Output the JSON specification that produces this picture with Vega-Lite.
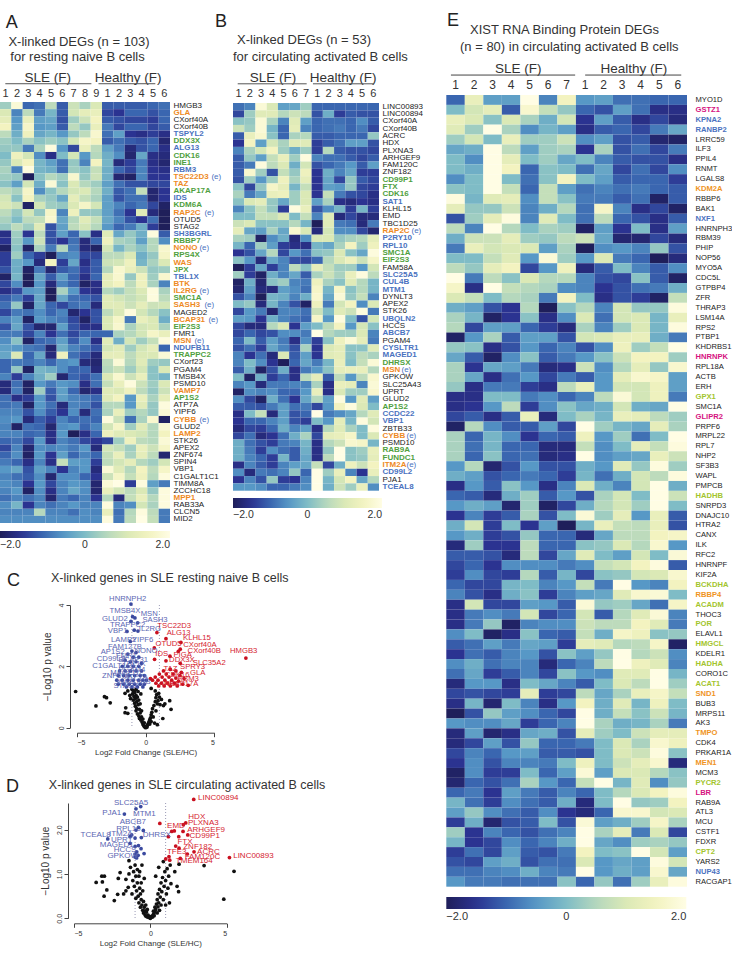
{"$schema":"https://vega.github.io/schema/vega-lite/v6.json","padding":0,"background":"white","spacing":23.3,"resolve":{"scale":{"color":"independent"}},"config":{"font":"Liberation Sans","view":{"stroke":null},"axis":{"grid":false},"text":{"font":"Liberation Sans"}},
"hconcat":[{"spacing":20,"resolve":{"scale":{"color":"independent"}},"vconcat":[
{"spacing":-7,"resolve":{"scale":{"color":"independent"}},"hconcat":[
{"bounds":"flush","spacing":0,"resolve":{"scale":{"color":"independent"}},"vconcat":[
{"width":170,"height":102,"data":{"values":[{"a":0}]},"layer":[
{"mark":{"type":"text","text":"A","fontSize":18,"align":"left","color":"#222"},"encoding":{"x":{"datum":0.53,"type":"quantitative","scale":{"domain":[0,15]},"axis":null},"y":{"datum":85,"type":"quantitative","scale":{"domain":[0,102]},"axis":null}}},
{"mark":{"type":"text","text":"X-linked DEGs (n = 103)","fontSize":13,"align":"left","color":"#333"},"encoding":{"x":{"datum":0.79,"type":"quantitative","axis":null},"y":{"datum":65,"type":"quantitative","axis":null}}},
{"mark":{"type":"text","text":"for resting naive B cells","fontSize":13,"align":"left","color":"#333"},"encoding":{"x":{"datum":0.97,"type":"quantitative","axis":null},"y":{"datum":48,"type":"quantitative","axis":null}}},
{"mark":{"type":"text","text":"SLE (F)","fontSize":13.5,"color":"#333"},"encoding":{"x":{"datum":4.5,"type":"quantitative","axis":null},"y":{"datum":26,"type":"quantitative","axis":null}}},
{"mark":{"type":"text","text":"Healthy (F)","fontSize":13.5,"color":"#333"},"encoding":{"x":{"datum":12.05,"type":"quantitative","axis":null},"y":{"datum":26,"type":"quantitative","axis":null}}},
{"mark":{"type":"rule","color":"#555","strokeWidth":1},"encoding":{"x":{"datum":0.5,"type":"quantitative","axis":null},"x2":{"datum":8.6},"y":{"datum":19.7,"type":"quantitative","axis":null}}},
{"mark":{"type":"rule","color":"#555","strokeWidth":1},"encoding":{"x":{"datum":9.27,"type":"quantitative","axis":null},"x2":{"datum":14.62},"y":{"datum":19.7,"type":"quantitative","axis":null}}}
]},
{"width":170,"height":421,"data":{"values":[
{"g":"HMGB3","S1":0.3,"S2":1.8,"S3":-1,"S4":-0.9,"S5":0.6,"S6":-1.1,"S7":0.8,"S8":0.4,"S9":1,"H1":-1.1,"H2":-1.1,"H3":-1.1,"H4":-1.1,"H5":-1,"H6":-0.9},
{"g":"GLA","S1":1,"S2":-0.7,"S3":0.6,"S4":-0.8,"S5":-0.1,"S6":-1.1,"S7":0.9,"S8":1.2,"S9":1.3,"H1":-1.3,"H2":-1.5,"H3":-1,"H4":-1,"H5":-1.2,"H6":-1},
{"g":"CXorf40A","S1":1.2,"S2":-0.5,"S3":1.3,"S4":-0.4,"S5":-0.3,"S6":-1.2,"S7":0.3,"S8":0.8,"S9":1.5,"H1":-1.1,"H2":-1.2,"H3":-1.3,"H4":-1.3,"H5":-1.4,"H6":-1},
{"g":"CXorf40B","S1":1.5,"S2":-0.4,"S3":1.6,"S4":-0.5,"S5":-0.4,"S6":-1.1,"S7":0.6,"S8":0.2,"S9":1.3,"H1":-0.8,"H2":-1.3,"H3":-1,"H4":-1,"H5":-1.3,"H6":-1.1},
{"g":"TSPYL2","S1":0.6,"S2":-0.2,"S3":1.4,"S4":-0.3,"S5":-0.1,"S6":-0.5,"S7":0.2,"S8":0.6,"S9":1.7,"H1":-0.9,"H2":-0.4,"H3":-1.5,"H4":-1.6,"H5":-1.4,"H6":-1.6},
{"g":"DDX3X","S1":0.3,"S2":0,"S3":0.4,"S4":0.1,"S5":0.3,"S6":0.1,"S7":0.9,"S8":1.6,"S9":1.5,"H1":-1.1,"H2":-0.9,"H3":-1.1,"H4":-1.2,"H5":-1,"H6":-1.8},
{"g":"ALG13","S1":0.2,"S2":0.2,"S3":-0.8,"S4":0.4,"S5":1.9,"S6":-0.5,"S7":-1.3,"S8":1.3,"S9":0.6,"H1":-0.4,"H2":-0.8,"H3":-1.7,"H4":-1.2,"H5":-1,"H6":-1.6},
{"g":"CDK16","S1":0,"S2":1.4,"S3":0.9,"S4":-0.6,"S5":-1.6,"S6":0,"S7":0.9,"S8":-0.5,"S9":0.5,"H1":-0.2,"H2":-0.6,"H3":-1.8,"H4":-0.3,"H5":-1.6,"H6":-1.7},
{"g":"INE1","S1":0.2,"S2":1,"S3":1.5,"S4":-0.1,"S5":-0.4,"S6":-0.9,"S7":0.2,"S8":-0.7,"S9":1.5,"H1":-0.1,"H2":-1.7,"H3":-1.4,"H4":-0.8,"H5":-1.6,"H6":-1.8},
{"g":"RBM3","S1":0.4,"S2":-0.7,"S3":1.9,"S4":-0.1,"S5":-0.2,"S6":-0.9,"S7":0.3,"S8":0.1,"S9":0.7,"H1":-0.2,"H2":-1,"H3":-1.3,"H4":-0.7,"H5":-1.5,"H6":-1.6},
{"g":"TSC22D3","S1":0.3,"S2":0.2,"S3":-2,"S4":0.1,"S5":0.5,"S6":0.3,"S7":1.7,"S8":0.2,"S9":0.8,"H1":-0.2,"H2":-1.8,"H3":-1.9,"H4":-0.7,"H5":-1.5,"H6":-1.5},
{"g":"TAZ","S1":0.1,"S2":-0.4,"S3":0.9,"S4":-0.2,"S5":1.8,"S6":0.1,"S7":1,"S8":0.5,"S9":0.3,"H1":-0.4,"H2":-0.9,"H3":-1.2,"H4":-1.2,"H5":-1.3,"H6":-1.3},
{"g":"AKAP17A","S1":0.6,"S2":0.4,"S3":1.6,"S4":-0.6,"S5":0.1,"S6":0.5,"S7":0.9,"S8":1,"S9":0.5,"H1":-0.2,"H2":-1.1,"H3":-0.9,"H4":0.7,"H5":-1.8,"H6":-1.5},
{"g":"IDS","S1":0.9,"S2":0.1,"S3":1.5,"S4":0.4,"S5":0.2,"S6":-0.3,"S7":1.2,"S8":0.7,"S9":0.4,"H1":-0.4,"H2":-1.2,"H3":-0.9,"H4":-0.9,"H5":-1.8,"H6":-1.5},
{"g":"KDM6A","S1":1,"S2":0.8,"S3":-1.9,"S4":0.9,"S5":0.3,"S6":0.2,"S7":1,"S8":1.6,"S9":0.9,"H1":-0.4,"H2":-0.7,"H3":-1,"H4":-0.8,"H5":-1.3,"H6":-1.9},
{"g":"RAP2C","S1":0.6,"S2":0.2,"S3":0.9,"S4":0.2,"S5":1.6,"S6":-0.7,"S7":1.4,"S8":0.2,"S9":0.2,"H1":-0.4,"H2":-0.9,"H3":-1.5,"H4":1.1,"H5":-1.7,"H6":-2},
{"g":"OTUD5","S1":0.4,"S2":0,"S3":0.6,"S4":0.7,"S5":1.7,"S6":-0.3,"S7":0.5,"S8":1.1,"S9":0.7,"H1":-0.3,"H2":-0.7,"H3":-1.2,"H4":-1.5,"H5":-0.9,"H6":-2},
{"g":"STAG2","S1":0.2,"S2":0.6,"S3":0.3,"S4":1.1,"S5":-1.2,"S6":-0.4,"S7":0.6,"S8":0.9,"S9":0.5,"H1":-0.5,"H2":-1,"H3":-0.8,"H4":-0.2,"H5":-1.4,"H6":-2},
{"g":"SH3BGRL","S1":-1.6,"S2":0.3,"S3":-1.5,"S4":0.6,"S5":-1.2,"S6":-0.4,"S7":-1,"S8":0.1,"S9":-1.6,"H1":1.1,"H2":-0.3,"H3":0.2,"H4":-0.2,"H5":1.9,"H6":-1.1},
{"g":"RBBP7","S1":-1.5,"S2":0.2,"S3":-0.5,"S4":0.8,"S5":-1.2,"S6":-1.5,"S7":-0.9,"S8":-1.7,"S9":-1,"H1":1.4,"H2":0.4,"H3":0.3,"H4":-0.4,"H5":0.5,"H6":-0.6},
{"g":"NONO","S1":-1.9,"S2":0.1,"S3":-1.9,"S4":0.4,"S5":-0.8,"S6":0.5,"S7":-0.8,"S8":-1.7,"S9":-1.9,"H1":0.9,"H2":-0.1,"H3":0.4,"H4":0.1,"H5":0.5,"H6":1.7},
{"g":"RPS4X","S1":-1.4,"S2":0.3,"S3":-1,"S4":-1.4,"S5":-2,"S6":-0.7,"S7":-0.6,"S8":-1.3,"S9":-1.3,"H1":0.6,"H2":0.6,"H3":1,"H4":-0.2,"H5":0.2,"H6":1.6},
{"g":"WAS","S1":-1.4,"S2":-0.2,"S3":-0.5,"S4":-1.7,"S5":1.5,"S6":-1.4,"S7":-0.3,"S8":-1.6,"S9":-1.1,"H1":0.8,"H2":0.9,"H3":1.4,"H4":-0.1,"H5":0.4,"H6":1},
{"g":"JPX","S1":-1.2,"S2":-0.2,"S3":-1.9,"S4":-0.8,"S5":-1.8,"S6":-1.1,"S7":-0.9,"S8":-1.4,"S9":-1.1,"H1":0.5,"H2":1.7,"H3":1.3,"H4":0.8,"H5":0.2,"H6":0.3},
{"g":"TBL1X","S1":-1.9,"S2":-0.1,"S3":-2,"S4":-0.3,"S5":-1.1,"S6":-0.4,"S7":-1,"S8":-1.6,"S9":-1,"H1":1.2,"H2":1.7,"H3":0.2,"H4":1.4,"H5":0.3,"H6":1.7},
{"g":"BTK","S1":-1.3,"S2":-0.6,"S3":-2,"S4":-0.5,"S5":-1.7,"S6":-0.7,"S7":-1,"S8":-1.9,"S9":-1.6,"H1":1.2,"H2":1.5,"H3":0.6,"H4":1.4,"H5":0.4,"H6":-0.7},
{"g":"IL2RG","S1":-1.6,"S2":-1.3,"S3":-0.5,"S4":-0.4,"S5":-2,"S6":0.4,"S7":-0.5,"S8":-1.5,"S9":-1.6,"H1":0.5,"H2":0.3,"H3":0.7,"H4":1,"H5":1.9,"H6":0.4},
{"g":"SMC1A","S1":-1.1,"S2":-0.8,"S3":-1.4,"S4":-0.3,"S5":-2,"S6":-0.3,"S7":-0.9,"S8":-1,"S9":-1.2,"H1":1.1,"H2":0.9,"H3":0.7,"H4":0.9,"H5":1.9,"H6":0.6},
{"g":"SASH3","S1":-0.9,"S2":0.2,"S3":-1.9,"S4":-0.3,"S5":-1,"S6":-1.3,"S7":-0.9,"S8":-0.8,"S9":-1.7,"H1":1.1,"H2":1.1,"H3":0.8,"H4":1.2,"H5":0.8,"H6":0.9},
{"g":"MAGED2","S1":-1.3,"S2":-0.8,"S3":-0.9,"S4":-0.6,"S5":-1,"S6":-0.7,"S7":-1.8,"S8":-1.5,"S9":-1.2,"H1":0.6,"H2":1,"H3":1.9,"H4":0.9,"H5":0.5,"H6":0.1},
{"g":"BCAP31","S1":-0.7,"S2":-0.4,"S3":-1.9,"S4":-0.5,"S5":-0.7,"S6":-0.8,"S7":-1.3,"S8":-1.9,"S9":-1.2,"H1":1,"H2":1.6,"H3":-0.8,"H4":1.3,"H5":1,"H6":-0.2},
{"g":"EIF2S3","S1":-1.2,"S2":-0.3,"S3":-1.2,"S4":-1.8,"S5":-1.8,"S6":-0.4,"S7":-1.2,"S8":-1.6,"S9":-1.6,"H1":1,"H2":1.7,"H3":0.4,"H4":0.9,"H5":1,"H6":0.4},
{"g":"FMR1","S1":-0.8,"S2":-0.8,"S3":-1.3,"S4":-0.7,"S5":-1.5,"S6":-0.9,"S7":-1.3,"S8":-1,"S9":-1,"H1":-1,"H2":0.4,"H3":0.5,"H4":0.9,"H5":1.6,"H6":1.3},
{"g":"MSN","S1":-0.6,"S2":0.1,"S3":-1.9,"S4":-1,"S5":-0.9,"S6":-0.4,"S7":-1.1,"S8":-0.6,"S9":-1.6,"H1":1.1,"H2":-0.2,"H3":0.9,"H4":0.3,"H5":0.7,"H6":1.9},
{"g":"NDUFB11","S1":-0.4,"S2":-0.5,"S3":-0.8,"S4":-0.9,"S5":-1.8,"S6":-0.2,"S7":-0.7,"S8":-0.9,"S9":-1.2,"H1":0.9,"H2":1.1,"H3":0.3,"H4":0.9,"H5":1.2,"H6":-1},
{"g":"TRAPPC2","S1":-0.3,"S2":1,"S3":-1,"S4":-0.3,"S5":-1.7,"S6":1.4,"S7":-0.9,"S8":-1.2,"S9":-1.7,"H1":1.2,"H2":1.2,"H3":0.6,"H4":1,"H5":1,"H6":1.8},
{"g":"CXorf23","S1":-1,"S2":-0.8,"S3":-0.9,"S4":-0.7,"S5":-1,"S6":-0.6,"S7":-0.5,"S8":-1.7,"S9":-1.8,"H1":0.6,"H2":1.8,"H3":0.5,"H4":1.1,"H5":0.3,"H6":0.2},
{"g":"PGAM4","S1":-1,"S2":0.2,"S3":-1.9,"S4":-0.1,"S5":-0.2,"S6":-0.6,"S7":-1,"S8":-1,"S9":-1.7,"H1":0.5,"H2":0.8,"H3":0.3,"H4":0.9,"H5":0.1,"H6":1},
{"g":"TMSB4X","S1":-0.7,"S2":-1.4,"S3":-0.7,"S4":-0.2,"S5":0.3,"S6":-1.8,"S7":-1,"S8":-1.2,"S9":-0.9,"H1":1,"H2":1.7,"H3":0.8,"H4":1.3,"H5":0.1,"H6":-0.1},
{"g":"PSMD10","S1":-1.7,"S2":-0.9,"S3":-1.9,"S4":-0.5,"S5":-0.8,"S6":-0.5,"S7":-0.6,"S8":-1.6,"S9":-0.9,"H1":0.7,"H2":1.3,"H3":1.9,"H4":0.8,"H5":0.3,"H6":1},
{"g":"VAMP7","S1":-1.7,"S2":-0.8,"S3":-1.9,"S4":0.3,"S5":-1.1,"S6":-0.4,"S7":-1,"S8":-1.8,"S9":-1.6,"H1":1.1,"H2":1,"H3":1.4,"H4":0.6,"H5":0.2,"H6":0.8},
{"g":"AP1S2","S1":-0.9,"S2":-1.6,"S3":-1.4,"S4":-0.5,"S5":-1.2,"S6":-0.4,"S7":-0.7,"S8":-0.8,"S9":-1,"H1":1.1,"H2":1.5,"H3":-0.5,"H4":1.3,"H5":0.4,"H6":1.2},
{"g":"ATP7A","S1":-0.9,"S2":-0.8,"S3":-1.9,"S4":-0.5,"S5":-0.9,"S6":-1.7,"S7":-0.7,"S8":-0.8,"S9":-1.2,"H1":0.5,"H2":0.5,"H3":-0.5,"H4":1.1,"H5":0.2,"H6":1.9},
{"g":"YIPF6","S1":-0.7,"S2":-0.7,"S3":-1.2,"S4":-0.6,"S5":-1.1,"S6":-1.5,"S7":-0.6,"S8":-1.7,"S9":-0.9,"H1":0.4,"H2":1.3,"H3":0.3,"H4":0.5,"H5":0.2,"H6":1.8},
{"g":"CYBB","S1":-0.6,"S2":-0.5,"S3":-1.7,"S4":-1.1,"S5":-1.4,"S6":-0.7,"S7":-1,"S8":-0.9,"S9":-1,"H1":1.9,"H2":0.8,"H3":-0.9,"H4":0.4,"H5":1.7,"H6":-1.9},
{"g":"GLUD2","S1":-0.7,"S2":-1.9,"S3":-0.9,"S4":-1,"S5":-1.8,"S6":-0.6,"S7":-0.5,"S8":-1,"S9":-0.7,"H1":0.9,"H2":1.6,"H3":0.3,"H4":1.1,"H5":0.5,"H6":1.8},
{"g":"LAMP2","S1":-0.7,"S2":-0.7,"S3":-1,"S4":-0.9,"S5":-1.6,"S6":-0.5,"S7":-2,"S8":-1.6,"S9":-1,"H1":1.4,"H2":1.1,"H3":1,"H4":0.9,"H5":0.5,"H6":1.5},
{"g":"STK26","S1":-1,"S2":-0.9,"S3":-1.3,"S4":-0.5,"S5":-1.6,"S6":-0.7,"S7":-0.9,"S8":-1.3,"S9":-1.5,"H1":-1.3,"H2":0.3,"H3":1.4,"H4":0.6,"H5":0.5,"H6":1.8},
{"g":"APEX2","S1":-1.3,"S2":-0.7,"S3":-1.8,"S4":-0.6,"S5":-0.7,"S6":-0.6,"S7":-0.8,"S8":-0.5,"S9":-1.7,"H1":0.9,"H2":0.7,"H3":0.3,"H4":1.3,"H5":0.8,"H6":1.6},
{"g":"ZNF674","S1":-1,"S2":-0.6,"S3":-1.9,"S4":-0.5,"S5":-1.5,"S6":-0.4,"S7":-1,"S8":-0.7,"S9":-1,"H1":0.7,"H2":1.3,"H3":0.4,"H4":1.2,"H5":0.6,"H6":-1.8},
{"g":"SPIN4","S1":-0.8,"S2":-1,"S3":-1.6,"S4":-0.7,"S5":-1.6,"S6":0.7,"S7":-0.4,"S8":-0.5,"S9":-1.4,"H1":0.6,"H2":0.9,"H3":1.2,"H4":0.5,"H5":0.3,"H6":0.9},
{"g":"VBP1","S1":-0.5,"S2":-0.3,"S3":-1.2,"S4":-0.4,"S5":-0.7,"S6":-1.5,"S7":-0.7,"S8":-0.5,"S9":-1.7,"H1":1.8,"H2":1.1,"H3":0.5,"H4":1.5,"H5":0.6,"H6":1.6},
{"g":"C1GALT1C1","S1":-0.7,"S2":-0.9,"S3":-1.1,"S4":-0.6,"S5":-1.8,"S6":-0.6,"S7":-0.6,"S8":-1,"S9":-1.5,"H1":0.8,"H2":1.6,"H3":0.7,"H4":1.4,"H5":0.5,"H6":1.9},
{"g":"TIMM8A","S1":-0.6,"S2":-0.7,"S3":-1.5,"S4":-0.5,"S5":-1.3,"S6":-0.7,"S7":-0.5,"S8":-0.6,"S9":-1.8,"H1":1.8,"H2":2,"H3":-1.4,"H4":1.9,"H5":-0.4,"H6":-0.8},
{"g":"ZCCHC18","S1":-0.7,"S2":-0.5,"S3":-1.9,"S4":-0.6,"S5":-1.6,"S6":-0.7,"S7":-0.3,"S8":-0.6,"S9":-1.8,"H1":1.3,"H2":0.9,"H3":0.6,"H4":1,"H5":0.2,"H6":1.9},
{"g":"MPP1","S1":-0.9,"S2":-0.7,"S3":-0.9,"S4":-0.7,"S5":-1.8,"S6":-0.8,"S7":-1,"S8":-0.7,"S9":-1.5,"H1":0.5,"H2":-1.7,"H3":0.7,"H4":1.3,"H5":0.5,"H6":1.9},
{"g":"RAB33A","S1":-0.6,"S2":-0.1,"S3":-1.5,"S4":-0.7,"S5":-0.9,"S6":-0.7,"S7":-0.5,"S8":-0.7,"S9":-0.7,"H1":1.9,"H2":-0.7,"H3":-0.6,"H4":0.9,"H5":0.4,"H6":1.9},
{"g":"CLCN5","S1":-0.7,"S2":-0.7,"S3":-0.7,"S4":0.5,"S5":-0.7,"S6":-0.7,"S7":-0.9,"S8":-0.6,"S9":-0.7,"H1":1.3,"H2":-0.9,"H3":0.5,"H4":1.9,"H5":0.6,"H6":-0.8},
{"g":"MID2","S1":-0.6,"S2":-0.6,"S3":-0.6,"S4":-0.6,"S5":-0.6,"S6":-0.6,"S7":-0.6,"S8":-0.6,"S9":-0.6,"H1":1.9,"H2":-0.8,"H3":0.6,"H4":2,"H5":0.7,"H6":-0.8}
]},"transform":[{"fold":["S1","S2","S3","S4","S5","S6","S7","S8","S9","H1","H2","H3","H4","H5","H6"],"as":["key","v"]}],
"layer":[
{"mark":{"type":"rect"},"encoding":{"x":{"field":"key","type":"nominal","sort":null,"scale":{"paddingInner":0,"paddingOuter":0},"axis":{"orient":"top","title":null,"labelAngle":0,"ticks":false,"domain":false,"labelPadding":4,"labelFontSize":11,"labelColor":"#333","labelExpr":"substring(datum.label,1)"}},
"y":{"field":"g","type":"nominal","sort":null,"scale":{"paddingInner":0,"paddingOuter":0},"axis":{"orient":"right","title":null,"ticks":false,"domain":false,"labelPadding":3,"labelFontSize":8,"labelLimit":100,"labelFontWeight":{"condition":{"test":"indexof(['HMGB3','CXorf40A','CXorf40B','OTUD5','STAG2','MAGED2','FMR1','CXorf23','PGAM4','TMSB4X','PSMD10','ATP7A','YIPF6','GLUD2','STK26','APEX2','ZNF674','SPIN4','VBP1','C1GALT1C1','TIMM8A','ZCCHC18','RAB33A','CLCN5','MID2'],datum.value)>=0","value":"normal"},"value":"bold"},"labelColor":{"condition":[{"test":"indexof(['GLA','TSC22D3','TAZ','RAP2C','NONO','WAS','BTK','IL2RG','SASH3','BCAP31','MSN','VAMP7','CYBB','LAMP2','MPP1'],datum.value)>=0","value":"#ee8a1f"},{"test":"indexof(['TSPYL2','ALG13','RBM3','IDS','SH3BGRL','TBL1X','NDUFB11'],datum.value)>=0","value":"#4a72c0"},{"test":"indexof(['DDX3X','CDK16','INE1','AKAP17A','KDM6A','RBBP7','RPS4X','JPX','SMC1A','EIF2S3','TRAPPC2','AP1S2'],datum.value)>=0","value":"#4f9f3e"}],"value":"#222"}}},
"color":{"field":"v","type":"quantitative","scale":{"domain":[-2,-1.5,-1,-0.5,0,0.5,1,1.5,2],"range":["#1f1f5a","#2b3391","#3a66b0","#5798c6","#7fbcc6","#b5d8bd","#dbe9b6","#f3f3c0","#fffde4"],"interpolate":"rgb"},"legend":{"orient":"bottom","direction":"horizontal","title":null,"gradientLength":170,"gradientThickness":7,"offset":8,"values":[-2,0,2],"labelFontSize":10.5,"labelColor":"#333","labelOverlap":false,"labelExpr":"datum.value==0?'0':format(datum.value,'.1f')"}}}},
{"transform":[{"filter":"datum.key=='H6' && indexof(['MSN'],datum.g)>=0"}],"mark":{"type":"text","text":"(e)","fontSize":8,"color":"#4a72c0","dx":35},"encoding":{"x":{"field":"key","type":"nominal","sort":null},"y":{"field":"g","type":"nominal","sort":null}}},
{"transform":[{"filter":"datum.key=='H6' && indexof(['IL2RG','NONO','CYBB'],datum.g)>=0"}],"mark":{"type":"text","text":"(e)","fontSize":8,"color":"#4a72c0","dx":40},"encoding":{"x":{"field":"key","type":"nominal","sort":null},"y":{"field":"g","type":"nominal","sort":null}}},
{"transform":[{"filter":"datum.key=='H6' && indexof(['RAP2C','SASH3'],datum.g)>=0"}],"mark":{"type":"text","text":"(e)","fontSize":8,"color":"#4a72c0","dx":45},"encoding":{"x":{"field":"key","type":"nominal","sort":null},"y":{"field":"g","type":"nominal","sort":null}}},
{"transform":[{"filter":"datum.key=='H6' && indexof(['BCAP31'],datum.g)>=0"}],"mark":{"type":"text","text":"(e)","fontSize":8,"color":"#4a72c0","dx":49},"encoding":{"x":{"field":"key","type":"nominal","sort":null},"y":{"field":"g","type":"nominal","sort":null}}},
{"transform":[{"filter":"datum.key=='H6' && indexof(['TSC22D3'],datum.g)>=0"}],"mark":{"type":"text","text":"(e)","fontSize":8,"color":"#4a72c0","dx":52},"encoding":{"x":{"field":"key","type":"nominal","sort":null},"y":{"field":"g","type":"nominal","sort":null}}}
]}
]},
{"bounds":"flush","spacing":0,"resolve":{"scale":{"color":"independent"}},"vconcat":[
{"width":146,"height":103,"data":{"values":[{"a":0}]},"layer":[
{"mark":{"type":"text","text":"B","fontSize":18,"align":"left","color":"#222"},"encoding":{"x":{"datum":-1.6,"type":"quantitative","scale":{"domain":[0,13]},"axis":null},"y":{"datum":86,"type":"quantitative","scale":{"domain":[0,103]},"axis":null}}},
{"mark":{"type":"text","text":"X-linked DEGs (n = 53)","fontSize":13,"align":"left","color":"#333"},"encoding":{"x":{"datum":0.36,"type":"quantitative","axis":null},"y":{"datum":67,"type":"quantitative","axis":null}}},
{"mark":{"type":"text","text":"for circulating activated B cells","fontSize":13,"align":"left","color":"#333"},"encoding":{"x":{"datum":0,"type":"quantitative","axis":null},"y":{"datum":49,"type":"quantitative","axis":null}}},
{"mark":{"type":"text","text":"SLE (F)","fontSize":13.5,"color":"#333"},"encoding":{"x":{"datum":3.56,"type":"quantitative","axis":null},"y":{"datum":27,"type":"quantitative","axis":null}}},
{"mark":{"type":"text","text":"Healthy (F)","fontSize":13.5,"color":"#333"},"encoding":{"x":{"datum":9.8,"type":"quantitative","axis":null},"y":{"datum":27,"type":"quantitative","axis":null}}},
{"mark":{"type":"rule","color":"#555","strokeWidth":1},"encoding":{"x":{"datum":0.42,"type":"quantitative","axis":null},"x2":{"datum":6.56},"y":{"datum":20.5,"type":"quantitative","axis":null}}},
{"mark":{"type":"rule","color":"#555","strokeWidth":1},"encoding":{"x":{"datum":7.12,"type":"quantitative","axis":null},"x2":{"datum":12.56},"y":{"datum":20.5,"type":"quantitative","axis":null}}}
]},
{"width":146,"height":387.7,"data":{"values":[
{"g":"LINC00893","S1":-0.9,"S2":-0.7,"S3":1.8,"S4":1,"S5":-0.4,"S6":-0.3,"S7":0.3,"H1":-1,"H2":-1,"H3":-1,"H4":-1,"H5":-1,"H6":-1},
{"g":"LINC00894","S1":-1.3,"S2":0.3,"S3":1.1,"S4":1.1,"S5":0.5,"S6":0.8,"S7":0.6,"H1":-1.2,"H2":-0.2,"H3":-1.4,"H4":-1.1,"H5":-1.2,"H6":-1.2},
{"g":"CXorf40A","S1":0.1,"S2":0.2,"S3":1.8,"S4":0.4,"S5":-0.7,"S6":1.1,"S7":-0.4,"H1":-1,"H2":-0.9,"H3":-0.9,"H4":-1,"H5":-0.6,"H6":-1.1},
{"g":"CXorf40B","S1":0.8,"S2":0.3,"S3":1.8,"S4":-0.1,"S5":-1,"S6":1.2,"S7":-0.7,"H1":-1,"H2":-0.9,"H3":-0.8,"H4":-1,"H5":-0.8,"H6":-1.3},
{"g":"ACRC","S1":-1.1,"S2":1.3,"S3":1.7,"S4":0.1,"S5":-1,"S6":0.4,"S7":0.5,"H1":-1.1,"H2":-1.1,"H3":-1,"H4":-1,"H5":-1,"H6":0.2},
{"g":"HDX","S1":-1.5,"S2":1.5,"S3":-0.4,"S4":0.9,"S5":0.4,"S6":1.1,"S7":1.1,"H1":-1.4,"H2":-1.1,"H3":-0.9,"H4":-0.4,"H5":-0.4,"H6":-1.2},
{"g":"PLXNA3","S1":-0.7,"S2":0.4,"S3":0.9,"S4":1.5,"S5":0.3,"S6":-0.2,"S7":0.3,"H1":-1.4,"H2":0.5,"H3":-1.1,"H4":-1.2,"H5":-1.2,"H6":-1.3},
{"g":"ARHGEF9","S1":-1.1,"S2":0.2,"S3":-0.4,"S4":0.7,"S5":1.3,"S6":0.3,"S7":1.9,"H1":-0.7,"H2":-0.9,"H3":-0.9,"H4":-1.1,"H5":-1.3,"H6":-1.1},
{"g":"FAM120C","S1":-1.1,"S2":-0.8,"S3":1.9,"S4":0.6,"S5":1,"S6":-0.2,"S7":0.9,"H1":-1.2,"H2":-1,"H3":-0.8,"H4":-0.5,"H5":-1.1,"H6":-0.4},
{"g":"ZNF182","S1":-1.1,"S2":1.7,"S3":0.3,"S4":-1.2,"S5":0.7,"S6":0.2,"S7":1.4,"H1":-1.5,"H2":-0.2,"H3":-0.7,"H4":-0.3,"H5":-1.4,"H6":-1.4},
{"g":"CD99P1","S1":-1.2,"S2":0.3,"S3":-0.5,"S4":0.3,"S5":1.4,"S6":0.4,"S7":1.2,"H1":-1.5,"H2":-0.3,"H3":-1.3,"H4":0.2,"H5":-1.1,"H6":-1.3},
{"g":"FTX","S1":0.1,"S2":-1.3,"S3":0.2,"S4":1.6,"S5":1.2,"S6":-0.1,"S7":0.7,"H1":-1.5,"H2":-0.4,"H3":-0.5,"H4":0.2,"H5":-1.3,"H6":-1.4},
{"g":"CDK16","S1":0.4,"S2":-0.8,"S3":-0.3,"S4":1.3,"S5":1.4,"S6":0.3,"S7":1,"H1":-1.5,"H2":0.7,"H3":-0.8,"H4":-1.2,"H5":-1.3,"H6":-1.6},
{"g":"SAT1","S1":0.1,"S2":1,"S3":1.2,"S4":0.2,"S5":-0.3,"S6":0.3,"S7":1,"H1":-0.4,"H2":0.4,"H3":-1.6,"H4":-1.7,"H5":-1.5,"H6":-1.6},
{"g":"KLHL15","S1":-0.7,"S2":0.1,"S3":0.7,"S4":0.2,"S5":-1.4,"S6":1.9,"S7":1.3,"H1":-1.2,"H2":-0.6,"H3":-0.1,"H4":-1.4,"H5":-0.1,"H6":-1.4},
{"g":"EMD","S1":0,"S2":0,"S3":0.7,"S4":0.7,"S5":1,"S6":0,"S7":0.7,"H1":-0.7,"H2":1.1,"H3":-1.7,"H4":-1.3,"H5":-1.7,"H6":-1.7},
{"g":"TBC1D25","S1":0.8,"S2":1,"S3":0.1,"S4":0.1,"S5":0.1,"S6":0.5,"S7":-0.1,"H1":-2,"H2":1.1,"H3":-0.8,"H4":-0.9,"H5":-1.7,"H6":-0.8},
{"g":"RAP2C","S1":1.2,"S2":-0.3,"S3":-0.4,"S4":0.4,"S5":-0.3,"S6":1.7,"S7":1,"H1":-1.7,"H2":0.9,"H3":-0.6,"H4":-0.6,"H5":-1.3,"H6":-1.8},
{"g":"P2RY10","S1":0.4,"S2":0.3,"S3":-1.9,"S4":-0.6,"S5":-0.2,"S6":-1.7,"S7":-0.6,"H1":1,"H2":1,"H3":0.2,"H4":0.4,"H5":0.5,"H6":1.2},
{"g":"RPL10","S1":-0.1,"S2":-1,"S3":0.3,"S4":-0.4,"S5":-1.4,"S6":-1.6,"S7":-1.6,"H1":-0.1,"H2":-0.3,"H3":0.4,"H4":1.5,"H5":0.3,"H6":1.4},
{"g":"SMC1A","S1":-1.5,"S2":-1.2,"S3":-0.3,"S4":0.5,"S5":-1.3,"S6":-0.5,"S7":-0.9,"H1":0.1,"H2":0.2,"H3":1,"H4":0.1,"H5":-0.3,"H6":1.9},
{"g":"EIF2S3","S1":0.1,"S2":-0.5,"S3":-1.7,"S4":-0.3,"S5":-0.7,"S6":-1.2,"S7":-1.3,"H1":-1,"H2":0.5,"H3":1,"H4":1.4,"H5":0.8,"H6":1.6},
{"g":"FAM58A","S1":-2,"S2":-1.4,"S3":-0.3,"S4":-1.4,"S5":-0.7,"S6":0.6,"S7":0.1,"H1":1.2,"H2":0.7,"H3":0.3,"H4":0.3,"H5":-0.5,"H6":0.9},
{"g":"SLC25A5","S1":0.3,"S2":-1.4,"S3":-1.9,"S4":-0.2,"S5":-0.7,"S6":-0.3,"S7":-1.1,"H1":0.4,"H2":0.8,"H3":0.4,"H4":1.3,"H5":1.9,"H6":0.6},
{"g":"CUL4B","S1":-1.9,"S2":-0.2,"S3":-1.8,"S4":0.1,"S5":0.3,"S6":-0.7,"S7":-0.8,"H1":1.4,"H2":0.4,"H3":0.1,"H4":1.1,"H5":0.5,"H6":-0.1},
{"g":"MTM1","S1":-1.8,"S2":-0.4,"S3":-1.7,"S4":-1.7,"S5":-0.4,"S6":-0.6,"S7":-0.9,"H1":1.6,"H2":-0.1,"H3":1.6,"H4":0.1,"H5":0.5,"H6":-0.1},
{"g":"DYNLT3","S1":-1.2,"S2":-0.7,"S3":-2,"S4":-0.1,"S5":-0.2,"S6":-0.7,"S7":-0.2,"H1":1.7,"H2":-0.3,"H3":1.8,"H4":0.2,"H5":0.7,"H6":-0.7},
{"g":"APEX2","S1":0,"S2":0.2,"S3":-1.7,"S4":-0.1,"S5":-0.7,"S6":-1.2,"S7":-1.9,"H1":1.4,"H2":-0.8,"H3":0.9,"H4":1.5,"H5":-0.6,"H6":1},
{"g":"STK26","S1":-1.3,"S2":-0.5,"S3":-0.8,"S4":-1.8,"S5":-0.7,"S6":-0.7,"S7":-0.9,"H1":0.8,"H2":0,"H3":1.1,"H4":0.8,"H5":1.9,"H6":-0.8},
{"g":"UBQLN2","S1":-0.4,"S2":-0.5,"S3":-1.5,"S4":-0.2,"S5":-0.7,"S6":-0.9,"S7":-1,"H1":1.6,"H2":-0.5,"H3":1.9,"H4":0,"H5":-1.2,"H6":0.9},
{"g":"HCCS","S1":-1.3,"S2":-1.7,"S3":-1.7,"S4":0.5,"S5":1,"S6":-1.5,"S7":-0.4,"H1":0,"H2":0.6,"H3":1.5,"H4":-0.5,"H5":0.9,"H6":0.1},
{"g":"ABCB7","S1":-1.3,"S2":-1,"S3":-1.3,"S4":-1.2,"S5":-0.6,"S6":-0.6,"S7":-0.8,"H1":2,"H2":0.5,"H3":0.3,"H4":0.3,"H5":1,"H6":-0.7},
{"g":"PGAM4","S1":-1,"S2":0,"S3":-1.1,"S4":-0.4,"S5":-0.8,"S6":-1.6,"S7":-0.6,"H1":-1.4,"H2":0.1,"H3":1.4,"H4":1.8,"H5":1.2,"H6":-0.8},
{"g":"CYSLTR1","S1":-1.2,"S2":-0.9,"S3":-1.4,"S4":-0.3,"S5":-0.7,"S6":-1.2,"S7":0.4,"H1":-1.5,"H2":1,"H3":1.2,"H4":0.1,"H5":0.1,"H6":1.1},
{"g":"MAGED1","S1":-0.7,"S2":-1.5,"S3":-0.9,"S4":-1.7,"S5":1,"S6":-1.1,"S7":-0.4,"H1":-1.5,"H2":1.1,"H3":1.2,"H4":0.1,"H5":0.6,"H6":0.4},
{"g":"DHRSX","S1":-0.7,"S2":0,"S3":-0.6,"S4":-1.5,"S5":-2,"S6":-1,"S7":-0.3,"H1":-0.8,"H2":-0.1,"H3":1.3,"H4":0,"H5":0.7,"H6":1.8},
{"g":"MSN","S1":-1.1,"S2":-0.2,"S3":-1.9,"S4":-1.2,"S5":-0.2,"S6":-1.6,"S7":-0.8,"H1":-0.5,"H2":0.1,"H3":1.2,"H4":1.3,"H5":1.3,"H6":0.5},
{"g":"GPKOW","S1":0,"S2":-1.9,"S3":-0.2,"S4":-1.4,"S5":-1,"S6":-1.6,"S7":0.6,"H1":1.2,"H2":-1.1,"H3":0.6,"H4":-0.5,"H5":0.6,"H6":1.7},
{"g":"SLC25A43","S1":-0.7,"S2":-0.5,"S3":-1.7,"S4":-0.8,"S5":-0.8,"S6":-0.7,"S7":-0.7,"H1":0.4,"H2":-1.6,"H3":1.3,"H4":1.2,"H5":-0.7,"H6":1.8},
{"g":"UPRT","S1":-1.9,"S2":-0.6,"S3":-0.7,"S4":-0.6,"S5":-1,"S6":-1,"S7":-0.5,"H1":1.3,"H2":-1.6,"H3":1,"H4":0.3,"H5":0.3,"H6":1.7},
{"g":"GLUD2","S1":-0.6,"S2":-1.3,"S3":-1.9,"S4":-0.2,"S5":-0.9,"S6":-1.5,"S7":-0.3,"H1":0.5,"H2":-0.4,"H3":1.9,"H4":-0.5,"H5":1.1,"H6":-0.4},
{"g":"AP1S2","S1":-1.1,"S2":-1.1,"S3":-1.2,"S4":-0.8,"S5":-0.4,"S6":-0.9,"S7":-0.8,"H1":-1.3,"H2":-0.5,"H3":1.5,"H4":1.9,"H5":1,"H6":0},
{"g":"CCDC22","S1":-1.6,"S2":0,"S3":0.7,"S4":-1.7,"S5":-0.4,"S6":-1.2,"S7":-1,"H1":2,"H2":-0.8,"H3":-0.6,"H4":-0.3,"H5":0.5,"H6":1.1},
{"g":"VBP1","S1":-1.5,"S2":-1,"S3":-1,"S4":-0.7,"S5":-0.4,"S6":-1.2,"S7":-1.4,"H1":0,"H2":-0.5,"H3":1.2,"H4":-0.1,"H5":1.9,"H6":0.9},
{"g":"ZBTB33","S1":-1.7,"S2":-1.3,"S3":-1.4,"S4":-1,"S5":-0.2,"S6":-0.7,"S7":-0.4,"H1":-1.6,"H2":0.5,"H3":1.1,"H4":0.4,"H5":0,"H6":1.9},
{"g":"CYBB","S1":-1.3,"S2":-0.9,"S3":-1.7,"S4":-1.5,"S5":-0.9,"S6":-0.2,"S7":0.4,"H1":-1.3,"H2":1.2,"H3":1.3,"H4":1.6,"H5":0,"H6":1},
{"g":"PSMD10","S1":-0.2,"S2":-0.9,"S3":-1.2,"S4":-1.4,"S5":-0.8,"S6":-0.7,"S7":-0.1,"H1":-1.6,"H2":0.5,"H3":0.8,"H4":1.7,"H5":1.6,"H6":-0.1},
{"g":"RAB9A","S1":-0.2,"S2":-0.8,"S3":-1.4,"S4":-0.6,"S5":-0.9,"S6":-1.1,"S7":-0.2,"H1":-1.6,"H2":0.2,"H3":2,"H4":0.1,"H5":0.3,"H6":1.3},
{"g":"FUNDC1","S1":-0.2,"S2":-0.7,"S3":-1,"S4":-1.4,"S5":-0.1,"S6":-1.1,"S7":-0.3,"H1":-1.6,"H2":0.6,"H3":2,"H4":0.1,"H5":0.2,"H6":1.2},
{"g":"ITM2A","S1":-1.6,"S2":-0.7,"S3":-1.1,"S4":-1.4,"S5":-0.7,"S6":-0.4,"S7":-0.3,"H1":0.7,"H2":-1.3,"H3":-0.2,"H4":1.4,"H5":0.8,"H6":1.5},
{"g":"CD99L2","S1":-0.6,"S2":-1.7,"S3":-0.8,"S4":-0.9,"S5":-0.7,"S6":0.2,"S7":-1,"H1":2,"H2":0.3,"H3":1.3,"H4":-0.7,"H5":-1.5,"H6":1.3},
{"g":"PJA1","S1":-1.5,"S2":-0.7,"S3":-1.2,"S4":0.2,"S5":-1.4,"S6":-1.5,"S7":-0.7,"H1":2,"H2":-0.1,"H3":0.9,"H4":1.5,"H5":-0.3,"H6":0.5},
{"g":"TCEAL8","S1":-0.5,"S2":-0.5,"S3":-0.6,"S4":-1,"S5":-1,"S6":-0.8,"S7":-0.6,"H1":2,"H2":-0.2,"H3":0.8,"H4":0.3,"H5":1.3,"H6":-0.6}
]},"transform":[{"fold":["S1","S2","S3","S4","S5","S6","S7","H1","H2","H3","H4","H5","H6"],"as":["key","v"]}],
"layer":[
{"mark":{"type":"rect"},"encoding":{"x":{"field":"key","type":"nominal","sort":null,"scale":{"paddingInner":0,"paddingOuter":0},"axis":{"orient":"top","title":null,"labelAngle":0,"ticks":false,"domain":false,"labelPadding":5,"labelFontSize":11,"labelColor":"#333","labelExpr":"substring(datum.label,1)"}},
"y":{"field":"g","type":"nominal","sort":null,"scale":{"paddingInner":0,"paddingOuter":0},"axis":{"orient":"right","title":null,"ticks":false,"domain":false,"labelPadding":3,"labelFontSize":8,"labelLimit":100,"labelFontWeight":{"condition":{"test":"indexof(['CD99P1','FTX','CDK16','SMC1A','EIF2S3','DHRSX','AP1S2','RAB9A','FUNDC1','SAT1','P2RY10','RPL10','SLC25A5','CUL4B','MTM1','UBQLN2','ABCB7','CYSLTR1','MAGED1','CCDC22','VBP1','CD99L2','TCEAL8','RAP2C','MSN','CYBB','ITM2A'],datum.value)>=0","value":"bold"},"value":"normal"},"labelColor":{"condition":[{"test":"indexof(['RAP2C','MSN','CYBB','ITM2A'],datum.value)>=0","value":"#ee8a1f"},{"test":"indexof(['SAT1','P2RY10','RPL10','SLC25A5','CUL4B','MTM1','UBQLN2','ABCB7','CYSLTR1','MAGED1','CCDC22','VBP1','CD99L2','TCEAL8'],datum.value)>=0","value":"#4a72c0"},{"test":"indexof(['CD99P1','FTX','CDK16','SMC1A','EIF2S3','DHRSX','AP1S2','RAB9A','FUNDC1'],datum.value)>=0","value":"#4f9f3e"}],"value":"#222"}}},
"color":{"field":"v","type":"quantitative","scale":{"domain":[-2,-1.5,-1,-0.5,0,0.5,1,1.5,2],"range":["#1f1f5a","#2b3391","#3a66b0","#5798c6","#7fbcc6","#b5d8bd","#dbe9b6","#f3f3c0","#fffde4"],"interpolate":"rgb"},"legend":{"orient":"bottom","direction":"horizontal","title":null,"gradientLength":149,"gradientThickness":10,"offset":7,"values":[-2,0,2],"labelFontSize":10.5,"labelColor":"#333","labelOverlap":false,"labelExpr":"datum.value==0?'0':format(datum.value,'.1f')"}}}},
{"transform":[{"filter":"datum.key=='H6' && indexof(['MSN'],datum.g)>=0"}],"mark":{"type":"text","text":"(e)","fontSize":8,"color":"#4a72c0","dx":33},"encoding":{"x":{"field":"key","type":"nominal","sort":null},"y":{"field":"g","type":"nominal","sort":null}}},
{"transform":[{"filter":"datum.key=='H6' && indexof(['CYBB','ITM2A'],datum.g)>=0"}],"mark":{"type":"text","text":"(e)","fontSize":8,"color":"#4a72c0","dx":38},"encoding":{"x":{"field":"key","type":"nominal","sort":null},"y":{"field":"g","type":"nominal","sort":null}}},
{"transform":[{"filter":"datum.key=='H6' && indexof(['RAP2C'],datum.g)>=0"}],"mark":{"type":"text","text":"(e)","fontSize":8,"color":"#4a72c0","dx":43},"encoding":{"x":{"field":"key","type":"nominal","sort":null},"y":{"field":"g","type":"nominal","sort":null}}}
]}
]}
]},
{"spacing":0,"resolve":{"scale":{"color":"independent"}},"hconcat":[
{"width":6,"height":1,"data":{"values":[{"a":0}]},"mark":{"type":"point","opacity":0},"encoding":{}},
{"width":137.3,"height":122.7,"layer":[
{"mark":{"type":"rule","color":"#9a9ab5","strokeDash":[1,2],"strokeWidth":1},"data":{"values":[{"x":-1},{"x":1}]},"encoding":{"x":{"field":"x","type":"quantitative","scale":{"domain":[-5,5]},"axis":{"values":[-5,0,5],"title":"Log2 Fold Change (SLE/HC)","titleFontSize":8,"titleFontWeight":"normal","titleColor":"#333","titlePadding":3,"labelFontSize":7,"labelColor":"#333","offset":5,"tickSize":4,"domainColor":"#444","tickColor":"#444","labelExpr":"replace(datum.label,'-','−')"}}}},
{"data":{"values":[
{"x":-5.1,"y":1.18,"c":"n"},{"x":-3.62,"y":0.71,"c":"n"},{"x":-3.0,"y":1.01,"c":"n"},{"x":-2.85,"y":0.98,"c":"n"},{"x":-2.58,"y":0.81,"c":"n"},{"x":-1.5,"y":1.12,"c":"n"},{"x":-1.45,"y":0.65,"c":"n"},{"x":-1.3,"y":0.47,"c":"n"},{"x":-1.5,"y":0.49,"c":"n"},{"x":-1.3,"y":1.2,"c":"n"},{"x":-1.15,"y":1.05,"c":"n"},{"x":-1.1,"y":0.95,"c":"n"},{"x":-1,"y":1.25,"c":"n"},{"x":-0.95,"y":1.1,"c":"n"},{"x":-0.9,"y":0.9,"c":"n"},{"x":-0.9,"y":1.2,"c":"n"},{"x":-0.85,"y":1.02,"c":"n"},{"x":-0.8,"y":0.8,"c":"n"},{"x":-0.8,"y":1.15,"c":"n"},{"x":-0.75,"y":0.7,"c":"n"},{"x":-0.75,"y":0.95,"c":"n"},{"x":-0.7,"y":0.55,"c":"n"},{"x":-0.7,"y":1.05,"c":"n"},{"x":-0.7,"y":1.25,"c":"n"},{"x":-0.65,"y":0.85,"c":"n"},{"x":-0.65,"y":0.62,"c":"n"},{"x":-0.6,"y":0.45,"c":"n"},{"x":-0.6,"y":1,"c":"n"},{"x":-0.55,"y":0.75,"c":"n"},{"x":-0.55,"y":1.18,"c":"n"},{"x":-0.5,"y":0.38,"c":"n"},{"x":-0.5,"y":0.9,"c":"n"},{"x":-0.45,"y":0.6,"c":"n"},{"x":-0.45,"y":0.3,"c":"n"},{"x":-0.4,"y":0.48,"c":"n"},{"x":-0.4,"y":0.78,"c":"n"},{"x":-0.35,"y":0.25,"c":"n"},{"x":-0.35,"y":1.1,"c":"n"},{"x":-0.3,"y":0.35,"c":"n"},{"x":-0.3,"y":0.55,"c":"n"},{"x":-0.25,"y":0.18,"c":"n"},{"x":-0.2,"y":0.12,"c":"n"},{"x":-0.2,"y":0.28,"c":"n"},{"x":-0.15,"y":0.08,"c":"n"},{"x":-0.1,"y":0.04,"c":"n"},{"x":-0.1,"y":0.16,"c":"n"},{"x":-0.05,"y":0.02,"c":"n"},{"x":0,"y":0,"c":"n"},{"x":0.05,"y":0.03,"c":"n"},{"x":0.1,"y":0.06,"c":"n"},{"x":0.1,"y":0.02,"c":"n"},{"x":0.15,"y":0.1,"c":"n"},{"x":0.2,"y":0.14,"c":"n"},{"x":0.25,"y":0.2,"c":"n"},{"x":0.3,"y":0.26,"c":"n"},{"x":0.3,"y":0.12,"c":"n"},{"x":0.35,"y":0.32,"c":"n"},{"x":0.4,"y":0.42,"c":"n"},{"x":0.4,"y":0.2,"c":"n"},{"x":0.45,"y":0.5,"c":"n"},{"x":0.5,"y":0.62,"c":"n"},{"x":0.55,"y":0.35,"c":"n"},{"x":0.6,"y":0.72,"c":"n"},{"x":0.65,"y":0.15,"c":"n"},{"x":0.7,"y":0.85,"c":"n"},{"x":0.75,"y":0.98,"c":"n"},{"x":0.75,"y":0.55,"c":"n"},{"x":0.8,"y":1.08,"c":"n"},{"x":0.85,"y":0.78,"c":"n"},{"x":0.9,"y":0.88,"c":"n"},{"x":0.95,"y":1.12,"c":"n"},{"x":1,"y":1,"c":"n"},{"x":1.05,"y":0.75,"c":"n"},{"x":0.4,"y":1.28,"c":"n"},{"x":0.7,"y":1.2,"c":"n"},{"x":1.15,"y":0.92,"c":"n"},{"x":1.25,"y":0.3,"c":"n"},{"x":1.3,"y":0.72,"c":"n"},{"x":1.4,"y":0.78,"c":"n"},{"x":1.75,"y":0.88,"c":"n"},{"x":1.85,"y":0.6,"c":"n"},{"x":0.85,"y":0.1,"c":"n"},
{"x":-1.07,"y":4.03,"c":"b"},{"x":-0.95,"y":3.62,"c":"b"},{"x":-0.78,"y":3.58,"c":"b"},{"x":-0.58,"y":3.42,"c":"b"},{"x":-1.07,"y":3.47,"c":"b"},{"x":-0.83,"y":3.18,"c":"b"},{"x":-0.56,"y":3.15,"c":"b"},{"x":-1.36,"y":3.14,"c":"b"},{"x":-1.12,"y":2.81,"c":"b"},{"x":-1,"y":2.5,"c":"b"},{"x":-0.7,"y":2.45,"c":"b"},{"x":-1.3,"y":2.4,"c":"b"},{"x":-0.9,"y":2.3,"c":"b"},{"x":-0.5,"y":2.3,"c":"b"},{"x":-1.5,"y":2.2,"c":"b"},{"x":-1.1,"y":2.15,"c":"b"},{"x":-0.7,"y":2.15,"c":"b"},{"x":-0.3,"y":2.1,"c":"b"},{"x":-1.7,"y":2,"c":"b"},{"x":-1.3,"y":2,"c":"b"},{"x":-0.9,"y":2,"c":"b"},{"x":-0.5,"y":2,"c":"b"},{"x":-1.9,"y":1.85,"c":"b"},{"x":-1.5,"y":1.85,"c":"b"},{"x":-1.1,"y":1.85,"c":"b"},{"x":-0.7,"y":1.85,"c":"b"},{"x":-0.3,"y":1.85,"c":"b"},{"x":-2,"y":1.7,"c":"b"},{"x":-1.6,"y":1.7,"c":"b"},{"x":-1.2,"y":1.7,"c":"b"},{"x":-0.8,"y":1.7,"c":"b"},{"x":-0.4,"y":1.7,"c":"b"},{"x":-0.1,"y":1.7,"c":"b"},{"x":-2.1,"y":1.55,"c":"b"},{"x":-1.7,"y":1.55,"c":"b"},{"x":-1.3,"y":1.55,"c":"b"},{"x":-0.9,"y":1.55,"c":"b"},{"x":-0.5,"y":1.55,"c":"b"},{"x":-0.2,"y":1.55,"c":"b"},{"x":0.05,"y":1.55,"c":"b"},{"x":-2,"y":1.42,"c":"b"},{"x":-1.6,"y":1.42,"c":"b"},{"x":-1.2,"y":1.42,"c":"b"},{"x":-0.8,"y":1.42,"c":"b"},{"x":-0.4,"y":1.42,"c":"b"},{"x":-0.1,"y":1.42,"c":"b"},{"x":-1.4,"y":1.33,"c":"b"},{"x":-1,"y":1.33,"c":"b"},{"x":-0.6,"y":1.33,"c":"b"},{"x":-0.2,"y":1.33,"c":"b"},
{"x":0.82,"y":3.1,"c":"r"},{"x":1.48,"y":2.9,"c":"r"},{"x":2.57,"y":2.78,"c":"r"},{"x":2.52,"y":2.56,"c":"r"},{"x":2.38,"y":2.49,"c":"r"},{"x":0.63,"y":2.6,"c":"r"},{"x":1.77,"y":2.33,"c":"r"},{"x":0.65,"y":2.23,"c":"r"},{"x":1.48,"y":2.18,"c":"r"},{"x":2.52,"y":2.1,"c":"r"},{"x":7.3,"y":2.27,"c":"r"},{"x":1.8,"y":1.9,"c":"r"},{"x":1.3,"y":1.85,"c":"r"},{"x":2.2,"y":1.85,"c":"r"},{"x":2.6,"y":1.8,"c":"r"},{"x":1,"y":1.75,"c":"r"},{"x":1.5,"y":1.75,"c":"r"},{"x":2,"y":1.75,"c":"r"},{"x":2.5,"y":1.7,"c":"r"},{"x":0.7,"y":1.65,"c":"r"},{"x":1.2,"y":1.65,"c":"r"},{"x":1.7,"y":1.65,"c":"r"},{"x":2.2,"y":1.62,"c":"r"},{"x":2.8,"y":1.6,"c":"r"},{"x":0.5,"y":1.55,"c":"r"},{"x":0.9,"y":1.55,"c":"r"},{"x":1.4,"y":1.55,"c":"r"},{"x":1.9,"y":1.55,"c":"r"},{"x":2.4,"y":1.52,"c":"r"},{"x":0.75,"y":1.45,"c":"r"},{"x":1.15,"y":1.45,"c":"r"},{"x":1.6,"y":1.45,"c":"r"},{"x":2.1,"y":1.45,"c":"r"},{"x":2.7,"y":1.42,"c":"r"},{"x":3.1,"y":1.38,"c":"r"},{"x":0.95,"y":1.36,"c":"r"},{"x":1.35,"y":1.36,"c":"r"},{"x":1.8,"y":1.36,"c":"r"},{"x":2.3,"y":1.36,"c":"r"},{"x":0.35,"y":1.6,"c":"r"}
]},"mark":{"type":"circle","size":14,"opacity":1},"encoding":{"x":{"field":"x","type":"quantitative"},"y":{"field":"y","type":"quantitative","scale":{"domain":[0,4]},"axis":{"values":[0,1,2,3,4],"title":"−Log10 p value","titleFontSize":10,"titleFontWeight":"normal","titleColor":"#333","titlePadding":5,"labelFontSize":7,"labelColor":"#333","labelAngle":-90,"labelBaseline":"bottom","labelAlign":"center","offset":7,"tickSize":4,"domainColor":"#444","tickColor":"#444"}},"color":{"field":"c","type":"nominal","scale":{"domain":["n","b","r"],"range":["#111111","#3b4aa0","#c9101f"]},"legend":null}}},
{"data":{"values":[
{"x":-1.31,"y":4.19,"c":"b","t":"HNRNPH2"},{"x":-1.51,"y":3.81,"c":"b","t":"TMSB4X"},{"x":0.26,"y":3.71,"c":"b","t":"MSN"},{"x":-2.24,"y":3.53,"c":"b","t":"GLUD2"},{"x":0.68,"y":3.52,"c":"b","t":"SASH3"},{"x":-1.31,"y":3.36,"c":"b","t":"TRAPPC2"},{"x":-2.04,"y":3.14,"c":"b","t":"VBP1"},{"x":0.31,"y":3.23,"c":"b","t":"IL2RG"},{"x":-1.6,"y":2.87,"c":"b","t":"LAMP2"},{"x":-0.22,"y":2.87,"c":"b","t":"YIPF6"},{"x":-1.51,"y":2.64,"c":"b","t":"FAM127B"},{"x":0.02,"y":2.51,"c":"b","t":"NONO"},{"x":-2.4,"y":2.46,"c":"b","t":"AP1S2"},{"x":-1.4,"y":2.35,"c":"b","t":"FMR1"},{"x":-2.53,"y":2.25,"c":"b","t":"CD99L2"},{"x":-0.9,"y":2.2,"c":"b","t":"BCAP31"},{"x":-0.85,"y":2.08,"c":"b","t":"TBL1X"},{"x":-2.3,"y":2.02,"c":"b","t":"C1GALT1C1"},{"x":-1,"y":1.87,"c":"b","t":"PGAM4"},{"x":-1.4,"y":1.77,"c":"b","t":"MAGED2"},{"x":-2.16,"y":1.67,"c":"b","t":"ZNF674"},{"x":-0.7,"y":1.65,"c":"b","t":"ATP7A"},{"x":-1.5,"y":1.5,"c":"b","t":"WAS"},{"x":-0.4,"y":1.5,"c":"b","t":"CYBB"},{"x":-1.45,"y":1.37,"c":"b","t":"STAG2"},
{"x":2.08,"y":3.3,"c":"r","t":"TSC22D3"},{"x":2.4,"y":3.09,"c":"r","t":"ALG13"},{"x":3.74,"y":2.91,"c":"r","t":"KLHL15"},{"x":3.95,"y":2.68,"c":"r","t":"CXorf40A"},{"x":1.67,"y":2.72,"c":"r","t":"OTUD5"},{"x":4.27,"y":2.49,"c":"r","t":"CXorf40B"},{"x":7.14,"y":2.51,"c":"r","t":"HMGB3"},{"x":1.17,"y":2.4,"c":"r","t":"IDS"},{"x":2.69,"y":2.37,"c":"r","t":"PIGA"},{"x":2.64,"y":2.21,"c":"r","t":"DDX3X"},{"x":4.63,"y":2.12,"c":"r","t":"SLC35A2"},{"x":3.42,"y":1.97,"c":"r","t":"SPRY3"},{"x":1.8,"y":1.9,"c":"r","t":"TAZ"},{"x":3.79,"y":1.77,"c":"r","t":"GLA"},{"x":2.3,"y":1.72,"c":"r","t":"CDK16"},{"x":3.1,"y":1.6,"c":"r","t":"RBM3"},{"x":1.8,"y":1.42,"c":"r","t":"INE1"},{"x":2.6,"y":1.42,"c":"r","t":"AKAP17A"}
]},"mark":{"type":"text","fontSize":7.7,"clip":false},"encoding":{"x":{"field":"x","type":"quantitative"},"y":{"field":"y","type":"quantitative"},"text":{"field":"t"},"color":{"field":"c","type":"nominal","scale":{"domain":["b","r"],"range":["#5b66b3","#d5232f"]},"legend":null}}},
{"data":{"values":[{"a":0}]},"mark":{"type":"text","text":"X-linked genes in SLE resting naive B cells","fontSize":12.5,"align":"left","color":"#333"},"encoding":{"x":{"datum":-6.9,"type":"quantitative"},"y":{"datum":4.89,"type":"quantitative"}}},
{"data":{"values":[{"a":0}]},"mark":{"type":"text","text":"C","fontSize":18,"align":"left","color":"#222"},"encoding":{"x":{"datum":-10.1,"type":"quantitative"},"y":{"datum":4.79,"type":"quantitative"}}}
],"resolve":{"scale":{"color":"independent"}}}
]},
{"spacing":0,"resolve":{"scale":{"color":"independent"}},"hconcat":[
{"width":6,"height":1,"data":{"values":[{"a":0}]},"mark":{"type":"point","opacity":0},"encoding":{}},
{"width":152.7,"height":115.3,"layer":[
{"mark":{"type":"rule","color":"#9a9ab5","strokeDash":[1,2],"strokeWidth":1},"data":{"values":[{"x":-1},{"x":1}]},"encoding":{"x":{"field":"x","type":"quantitative","scale":{"domain":[-5,5]},"axis":{"values":[-5,0,5],"title":"Log2 Fold Change (SLE/HC)","titleFontSize":8,"titleFontWeight":"normal","titleColor":"#333","titlePadding":3,"labelFontSize":7,"labelColor":"#333","offset":5,"tickSize":4,"domainColor":"#444","tickColor":"#444","labelExpr":"replace(datum.label,'-','−')"}}}},
{"data":{"values":[
{"x":5.48,"y":1.06,"c":"n"},{"x":4.81,"y":0.43,"c":"n"},{"x":3.52,"y":1.19,"c":"n"},{"x":1.88,"y":1.22,"c":"n"},{"x":-3.55,"y":0.81,"c":"n"},{"x":-3.18,"y":0.95,"c":"n"},{"x":-3.01,"y":0.95,"c":"n"},{"x":-3.14,"y":0.82,"c":"n"},{"x":-2.85,"y":0.64,"c":"n"},{"x":-3.03,"y":0.5,"c":"n"},{"x":-2.36,"y":0.4,"c":"n"},{"x":-2.14,"y":0.54,"c":"n"},{"x":-2.1,"y":0.9,"c":"n"},{"x":-1.98,"y":1.03,"c":"n"},{"x":-1.75,"y":0.55,"c":"n"},{"x":-1.6,"y":0.62,"c":"n"},{"x":-1.6,"y":0.88,"c":"n"},{"x":-1.45,"y":0.7,"c":"n"},{"x":-1.4,"y":1,"c":"n"},{"x":-1.3,"y":1.15,"c":"n"},{"x":-1.4,"y":1.3,"c":"n"},{"x":-1.2,"y":0.55,"c":"n"},{"x":-1.15,"y":0.85,"c":"n"},{"x":-1.1,"y":1.05,"c":"n"},{"x":-1.05,"y":0.72,"c":"n"},{"x":-1,"y":1.2,"c":"n"},{"x":-0.95,"y":0.45,"c":"n"},{"x":-0.95,"y":0.95,"c":"n"},{"x":-0.9,"y":0.62,"c":"n"},{"x":-0.85,"y":1.1,"c":"n"},{"x":-0.85,"y":0.8,"c":"n"},{"x":-0.8,"y":0.5,"c":"n"},{"x":-0.75,"y":0.95,"c":"n"},{"x":-0.75,"y":0.35,"c":"n"},{"x":-0.7,"y":0.68,"c":"n"},{"x":-0.7,"y":1.05,"c":"n"},{"x":-0.65,"y":0.25,"c":"n"},{"x":-0.65,"y":0.55,"c":"n"},{"x":-0.6,"y":0.8,"c":"n"},{"x":-0.6,"y":0.42,"c":"n"},{"x":-0.55,"y":0.3,"c":"n"},{"x":-0.55,"y":1.2,"c":"n"},{"x":-0.5,"y":0.18,"c":"n"},{"x":-0.5,"y":0.62,"c":"n"},{"x":-0.45,"y":0.38,"c":"n"},{"x":-0.45,"y":0.12,"c":"n"},{"x":-0.4,"y":0.25,"c":"n"},{"x":-0.4,"y":0.9,"c":"n"},{"x":-0.35,"y":0.17,"c":"n"},{"x":-0.35,"y":0.08,"c":"n"},{"x":-0.3,"y":0.3,"c":"n"},{"x":-0.3,"y":0.05,"c":"n"},{"x":-0.25,"y":0.14,"c":"n"},{"x":-0.2,"y":0.03,"c":"n"},{"x":-0.2,"y":0.2,"c":"n"},{"x":-0.15,"y":0.07,"c":"n"},{"x":-0.1,"y":0.02,"c":"n"},{"x":-0.05,"y":0.04,"c":"n"},{"x":0,"y":0,"c":"n"},{"x":0.05,"y":0.02,"c":"n"},{"x":0.1,"y":0.05,"c":"n"},{"x":0.15,"y":0.03,"c":"n"},{"x":0.2,"y":0.09,"c":"n"},{"x":0.2,"y":0.16,"c":"n"},{"x":0.25,"y":0.06,"c":"n"},{"x":0.3,"y":0.14,"c":"n"},{"x":0.3,"y":0.25,"c":"n"},{"x":0.35,"y":0.2,"c":"n"},{"x":0.4,"y":0.32,"c":"n"},{"x":0.45,"y":0.12,"c":"n"},{"x":0.45,"y":0.42,"c":"n"},{"x":0.5,"y":0.26,"c":"n"},{"x":0.5,"y":0.55,"c":"n"},{"x":0.55,"y":0.35,"c":"n"},{"x":0.6,"y":0.65,"c":"n"},{"x":0.6,"y":0.18,"c":"n"},{"x":0.65,"y":0.48,"c":"n"},{"x":0.7,"y":0.8,"c":"n"},{"x":0.7,"y":0.3,"c":"n"},{"x":0.75,"y":0.6,"c":"n"},{"x":0.8,"y":0.92,"c":"n"},{"x":0.85,"y":0.42,"c":"n"},{"x":0.9,"y":0.72,"c":"n"},{"x":0.95,"y":1.05,"c":"n"},{"x":1,"y":0.3,"c":"n"},{"x":1,"y":0.85,"c":"n"},{"x":1.05,"y":0.55,"c":"n"},{"x":1.1,"y":1.12,"c":"n"},{"x":1.15,"y":0.68,"c":"n"},{"x":1.2,"y":0.95,"c":"n"},{"x":1.25,"y":0.35,"c":"n"},{"x":1.3,"y":1.2,"c":"n"},{"x":1.35,"y":0.78,"c":"n"},{"x":1.6,"y":1.05,"c":"n"},{"x":1.75,"y":0.72,"c":"n"},{"x":1.85,"y":0.6,"c":"n"},{"x":0.85,"y":1.28,"c":"n"},{"x":0.55,"y":1.15,"c":"n"},{"x":0.35,"y":0.95,"c":"n"},
{"x":-0.63,"y":2.52,"c":"b"},{"x":-0.94,"y":2.47,"c":"b"},{"x":-1.7,"y":2.35,"c":"b"},{"x":-0.78,"y":2.05,"c":"b"},{"x":-0.46,"y":1.98,"c":"b"},{"x":-0.94,"y":1.99,"c":"b"},{"x":-1.22,"y":1.88,"c":"b"},{"x":-1.33,"y":1.84,"c":"b"},{"x":-2.79,"y":1.79,"c":"b"},{"x":-0.59,"y":1.82,"c":"b"},{"x":-1,"y":1.81,"c":"b"},{"x":-1.33,"y":1.69,"c":"b"},{"x":-0.78,"y":1.64,"c":"b"},{"x":-1,"y":1.62,"c":"b"},{"x":-0.61,"y":1.57,"c":"b"},{"x":-0.89,"y":1.5,"c":"b"},{"x":-0.41,"y":1.46,"c":"b"},{"x":-1,"y":1.45,"c":"b"},{"x":-0.8,"y":1.42,"c":"b"},{"x":-0.9,"y":1.36,"c":"b"},{"x":-1,"y":1.38,"c":"b"},
{"x":2.84,"y":2.68,"c":"r"},{"x":0.62,"y":2.14,"c":"r"},{"x":2.32,"y":2.15,"c":"r"},{"x":2.16,"y":2.11,"c":"r"},{"x":1.4,"y":1.96,"c":"r"},{"x":1.57,"y":1.97,"c":"r"},{"x":2.14,"y":1.96,"c":"r"},{"x":2.45,"y":1.88,"c":"r"},{"x":1.86,"y":1.84,"c":"r"},{"x":1.18,"y":1.84,"c":"r"},{"x":1.66,"y":1.63,"c":"r"},{"x":1.88,"y":1.58,"c":"r"},{"x":2.42,"y":1.45,"c":"r"},{"x":2.86,"y":1.5,"c":"r"},{"x":1.96,"y":1.35,"c":"r"},{"x":1.22,"y":1.39,"c":"r"},{"x":1.01,"y":1.34,"c":"r"},{"x":1.27,"y":1.31,"c":"r"},{"x":5.18,"y":1.37,"c":"r"}
]},"mark":{"type":"circle","size":14,"opacity":1},"encoding":{"x":{"field":"x","type":"quantitative"},"y":{"field":"y","type":"quantitative","scale":{"domain":[0,2.5]},"axis":{"values":[0,0.5,1,1.5,2,2.5],"format":".1f","title":"−Log10 p value","titleFontSize":10,"titleFontWeight":"normal","titleColor":"#333","titlePadding":5,"labelFontSize":7,"labelColor":"#333","labelAngle":-90,"labelBaseline":"bottom","labelAlign":"center","offset":6,"tickSize":4,"domainColor":"#444","tickColor":"#444"}},"color":{"field":"c","type":"nominal","scale":{"domain":["n","b","r"],"range":["#111111","#3b4aa0","#c9101f"]},"legend":null}}},
{"data":{"values":[
{"x":4.45,"y":2.71,"c":"r","t":"LINC00894"},{"x":-1.26,"y":2.59,"c":"b","t":"SLC25A5"},{"x":-2.53,"y":2.38,"c":"b","t":"PJA1"},{"x":-0.39,"y":2.36,"c":"b","t":"MTM1"},{"x":-1.15,"y":2.18,"c":"b","t":"ABCB7"},{"x":3.04,"y":2.29,"c":"r","t":"HDX"},{"x":3.47,"y":2.15,"c":"r","t":"PLXNA3"},{"x":1.68,"y":2.09,"c":"r","t":"EMD"},{"x":3.65,"y":1.99,"c":"r","t":"ARHGEF9"},{"x":-1.44,"y":2.01,"c":"b","t":"RPL10"},{"x":-1.94,"y":1.89,"c":"b","t":"ITM2A"},{"x":-3.58,"y":1.87,"c":"b","t":"TCEAL8"},{"x":0.42,"y":1.88,"c":"b","t":"DHRSX"},{"x":3.56,"y":1.86,"c":"r","t":"CD99P1"},{"x":-1.87,"y":1.77,"c":"b","t":"UPRT"},{"x":-2.2,"y":1.66,"c":"b","t":"MAGED1"},{"x":2.27,"y":1.71,"c":"r","t":"FTX"},{"x":3.1,"y":1.6,"c":"r","t":"ZNF182"},{"x":-1.66,"y":1.53,"c":"b","t":"HCCS"},{"x":3.8,"y":1.5,"c":"r","t":"ACRC"},{"x":1.73,"y":1.5,"c":"r","t":"TFE3"},{"x":3.41,"y":1.39,"c":"r","t":"FAM120C"},{"x":-1.81,"y":1.4,"c":"b","t":"GPKOW"},{"x":2.88,"y":1.3,"c":"r","t":"TMEM164"},{"x":6.75,"y":1.41,"c":"r","t":"LINC00893"}
]},"mark":{"type":"text","fontSize":8,"clip":false},"encoding":{"x":{"field":"x","type":"quantitative"},"y":{"field":"y","type":"quantitative"},"text":{"field":"t"},"color":{"field":"c","type":"nominal","scale":{"domain":["b","r"],"range":["#5b66b3","#d5232f"]},"legend":null}}},
{"data":{"values":[{"a":0}]},"mark":{"type":"text","text":"X-linked genes in SLE circulating activated B cells","fontSize":12.5,"align":"left","color":"#333"},"encoding":{"x":{"datum":-6.65,"type":"quantitative"},"y":{"datum":3.015,"type":"quantitative"}}},
{"data":{"values":[{"a":0}]},"mark":{"type":"text","text":"D","fontSize":18,"align":"left","color":"#222"},"encoding":{"x":{"datum":-9.45,"type":"quantitative"},"y":{"datum":2.97,"type":"quantitative"}}}
],"resolve":{"scale":{"color":"independent"}}}
]}
]},
{"bounds":"flush","spacing":0,"resolve":{"scale":{"color":"independent"}},"vconcat":[
{"width":240.7,"height":95,"data":{"values":[{"a":0}]},"layer":[
{"mark":{"type":"text","text":"E","fontSize":18,"align":"left","color":"#222"},"encoding":{"x":{"datum":0.04,"type":"quantitative","scale":{"domain":[0,13]},"axis":null},"y":{"datum":78,"type":"quantitative","scale":{"domain":[0,95]},"axis":null}}},
{"mark":{"type":"text","text":"XIST RNA Binding Protein DEGs","fontSize":13,"align":"left","color":"#333"},"encoding":{"x":{"datum":1.28,"type":"quantitative","axis":null},"y":{"datum":68,"type":"quantitative","axis":null}}},
{"mark":{"type":"text","text":"(n = 80)  in circulating activated B cells","fontSize":13,"align":"left","color":"#333"},"encoding":{"x":{"datum":0.74,"type":"quantitative","axis":null},"y":{"datum":51,"type":"quantitative","axis":null}}},
{"mark":{"type":"text","text":"SLE (F)","fontSize":13.5,"color":"#333"},"encoding":{"x":{"datum":3.88,"type":"quantitative","axis":null},"y":{"datum":27,"type":"quantitative","axis":null}}},
{"mark":{"type":"text","text":"Healthy (F)","fontSize":13.5,"color":"#333"},"encoding":{"x":{"datum":10.13,"type":"quantitative","axis":null},"y":{"datum":27,"type":"quantitative","axis":null}}},
{"mark":{"type":"rule","color":"#444","strokeWidth":1},"encoding":{"x":{"datum":0.25,"type":"quantitative","axis":null},"x2":{"datum":6.96},"y":{"datum":21,"type":"quantitative","axis":null}}},
{"mark":{"type":"rule","color":"#444","strokeWidth":1},"encoding":{"x":{"datum":7.5,"type":"quantitative","axis":null},"x2":{"datum":12.69},"y":{"datum":21,"type":"quantitative","axis":null}}}
]},
{"width":240.7,"height":791.7,"data":{"values":[
{"g":"MYO1D","S1":-1,"S2":1.3,"S3":-0.4,"S4":-0.4,"S5":2,"S6":-0.7,"S7":1.5,"H1":-0.5,"H2":-0.4,"H3":-0.9,"H4":-0.9,"H5":-1,"H6":-1},
{"g":"GSTZ1","S1":0,"S2":0.9,"S3":1.2,"S4":-1.1,"S5":1.7,"S6":0.7,"S7":0.2,"H1":-1,"H2":-1.2,"H3":-0.4,"H4":-0.9,"H5":-1.6,"H6":-1.6},
{"g":"KPNA2","S1":1.3,"S2":1,"S3":0.1,"S4":1,"S5":0.4,"S6":-0.2,"S7":0.9,"H1":-1.5,"H2":-0.4,"H3":-1.1,"H4":-1.6,"H5":-1.3,"H6":-1.7},
{"g":"RANBP2","S1":1.1,"S2":0.3,"S3":2,"S4":0.4,"S5":-0.6,"S6":-0.1,"S7":-0.4,"H1":-1.6,"H2":-1.1,"H3":-1,"H4":-1.3,"H5":-0.8,"H6":-0.3},
{"g":"LRRC59","S1":0.3,"S2":0.9,"S3":0,"S4":1.3,"S5":0.3,"S6":0.3,"S7":0.8,"H1":-0.6,"H2":-0.4,"H3":-1.2,"H4":-1.1,"H5":-1.8,"H6":-1.9},
{"g":"ILF3","S1":-0.3,"S2":-0.2,"S3":2,"S4":0.6,"S5":-0.4,"S6":0.3,"S7":0.4,"H1":-1.5,"H2":0.4,"H3":-1.2,"H4":-0.9,"H5":-1.3,"H6":-0.8},
{"g":"PPIL4","S1":0,"S2":-0.6,"S3":2,"S4":1.2,"S5":0,"S6":0.3,"S7":-0.3,"H1":0,"H2":-0.7,"H3":-1.1,"H4":-1.2,"H5":-1.2,"H6":-1.6},
{"g":"RNMT","S1":0,"S2":-0.2,"S3":2,"S4":1.5,"S5":-1,"S6":0.1,"S7":0,"H1":-0.9,"H2":-0.3,"H3":-1.3,"H4":-0.9,"H5":-1.3,"H6":-0.6},
{"g":"LGALS8","S1":-0.6,"S2":0,"S3":2,"S4":0,"S5":-0.9,"S6":0.1,"S7":1.5,"H1":0,"H2":-0.4,"H3":-1.1,"H4":-1,"H5":-1,"H6":-1.4},
{"g":"KDM2A","S1":0.1,"S2":0,"S3":2,"S4":0.7,"S5":-1,"S6":0.7,"S7":-0.4,"H1":-0.9,"H2":-0.7,"H3":-0.9,"H4":-0.8,"H5":-1,"H6":-1.1},
{"g":"RBBP6","S1":1.9,"S2":-0.1,"S3":1.1,"S4":1.2,"S5":-0.6,"S6":0.7,"S7":0.1,"H1":-0.8,"H2":-0.8,"H3":-1.1,"H4":-0.9,"H5":-1.9,"H6":-1.1},
{"g":"BAK1","S1":1.2,"S2":0.2,"S3":0.2,"S4":0.8,"S5":-0.7,"S6":-0.2,"S7":0.5,"H1":-0.9,"H2":1.6,"H3":-0.7,"H4":-1.6,"H5":-1.3,"H6":-1.9},
{"g":"NXF1","S1":-1.2,"S2":0.3,"S3":1.2,"S4":1.9,"S5":-0.7,"S6":1.1,"S7":0,"H1":-0.9,"H2":0.6,"H3":-1,"H4":-1.2,"H5":-1.6,"H6":-1.1},
{"g":"HNRNPH3","S1":0.6,"S2":-0.7,"S3":2,"S4":0.5,"S5":0,"S6":0.4,"S7":0.3,"H1":-1.9,"H2":-0.4,"H3":-1.5,"H4":0,"H5":-1.6,"H6":-0.4},
{"g":"RBM39","S1":-0.2,"S2":0.8,"S3":0.8,"S4":1.2,"S5":0.3,"S6":0.2,"S7":0.6,"H1":0.8,"H2":-0.3,"H3":-1.8,"H4":-1.8,"H5":-1.3,"H6":-1.7},
{"g":"PHIP","S1":-0.8,"S2":1.3,"S3":0.9,"S4":1,"S5":1,"S6":-0.4,"S7":0.4,"H1":-2,"H2":-0.6,"H3":-0.5,"H4":-0.7,"H5":0.2,"H6":-1.2},
{"g":"NOP56","S1":0,"S2":0,"S3":0.7,"S4":1.1,"S5":-0.5,"S6":1.8,"S7":0.3,"H1":-0.5,"H2":1,"H3":-0.8,"H4":-1,"H5":-2,"H6":-1.7},
{"g":"MYO5A","S1":0.6,"S2":0.2,"S3":1.2,"S4":1.5,"S5":-1.3,"S6":-0.5,"S7":1.4,"H1":-1.7,"H2":-1.1,"H3":0,"H4":-0.7,"H5":-1.1,"H6":-0.6},
{"g":"CDC5L","S1":2,"S2":-0.8,"S3":0.6,"S4":0.1,"S5":1,"S6":0.5,"S7":0.5,"H1":-0.7,"H2":-1.2,"H3":-1.3,"H4":0.1,"H5":-1.1,"H6":-1.9},
{"g":"GTPBP4","S1":1.6,"S2":-1.6,"S3":2,"S4":0.7,"S5":0.5,"S6":0.4,"S7":-0.6,"H1":-0.7,"H2":-1.5,"H3":-1.2,"H4":-0.9,"H5":-0.8,"H6":-0.2},
{"g":"ZFR","S1":1,"S2":0.7,"S3":0,"S4":0.5,"S5":0.4,"S6":-0.8,"S7":1.5,"H1":0,"H2":-1.6,"H3":-1.2,"H4":-1.4,"H5":-1.9,"H6":0.7},
{"g":"THRAP3","S1":-0.2,"S2":-0.4,"S3":-1.2,"S4":-1.5,"S5":0.5,"S6":-2,"S7":0.1,"H1":0.5,"H2":-0.7,"H3":0.9,"H4":0.2,"H5":0.2,"H6":1.9},
{"g":"LSM14A","S1":0.4,"S2":-0.1,"S3":-1.9,"S4":-1.5,"S5":0.1,"S6":-1.6,"S7":-0.6,"H1":1,"H2":-0.9,"H3":0.9,"H4":1,"H5":-0.1,"H6":1.3},
{"g":"RPS2","S1":0.5,"S2":-1.3,"S3":-0.4,"S4":-0.4,"S5":-1,"S6":-1.4,"S7":-1.7,"H1":0.4,"H2":-0.7,"H3":0.3,"H4":1,"H5":-0.1,"H6":1.9},
{"g":"PTBP1","S1":-1.9,"S2":-0.5,"S3":0.4,"S4":-1.1,"S5":-0.4,"S6":-0.4,"S7":-1.2,"H1":0.9,"H2":1,"H3":1.3,"H4":1.3,"H5":-0.2,"H6":-0.8},
{"g":"KHDRBS1","S1":0.2,"S2":0.1,"S3":-1.6,"S4":-1.2,"S5":-0.5,"S6":-1,"S7":-0.7,"H1":-1.2,"H2":-0.6,"H3":1.4,"H4":0.3,"H5":0.7,"H6":2},
{"g":"HNRNPK","S1":-0.3,"S2":-1.1,"S3":-1.9,"S4":-0.6,"S5":0.1,"S6":-1.1,"S7":-0.8,"H1":-0.5,"H2":0.1,"H3":0.8,"H4":1.5,"H5":1.5,"H6":0.3},
{"g":"RPL18A","S1":0.4,"S2":-1.5,"S3":-0.3,"S4":-0.4,"S5":-0.8,"S6":-1.7,"S7":-1.6,"H1":0.8,"H2":-0.6,"H3":0.5,"H4":1.2,"H5":0.2,"H6":1.7},
{"g":"ACTB","S1":0.4,"S2":-0.3,"S3":-1.6,"S4":-0.9,"S5":-0.5,"S6":-1.3,"S7":-0.8,"H1":-1.1,"H2":-0.5,"H3":1.2,"H4":1.7,"H5":1.6,"H6":-0.4},
{"g":"ERH","S1":0.2,"S2":-1.6,"S3":-0.8,"S4":-0.8,"S5":-1.4,"S6":-1.6,"S7":0.6,"H1":1.3,"H2":-0.5,"H3":0.9,"H4":0.9,"H5":1.4,"H6":-0.4},
{"g":"GPX1","S1":-1.6,"S2":-1.6,"S3":0,"S4":0,"S5":-0.8,"S6":-0.6,"S7":-1,"H1":-0.7,"H2":0.6,"H3":1.8,"H4":0.9,"H5":1.4,"H6":-0.8},
{"g":"SMC1A","S1":-1.6,"S2":-1.5,"S3":-0.5,"S4":0.6,"S5":-1.4,"S6":-0.6,"S7":0.1,"H1":-0.3,"H2":-0.2,"H3":0.9,"H4":-0.2,"H5":-0.3,"H6":2},
{"g":"GLIPR2","S1":-1.3,"S2":-1.1,"S3":-1.6,"S4":-1.1,"S5":1.3,"S6":-1.7,"S7":0,"H1":0.4,"H2":-0.1,"H3":1.3,"H4":1.2,"H5":0.6,"H6":0.3},
{"g":"PRPF6","S1":-1.9,"S2":0.5,"S3":-0.6,"S4":-1.1,"S5":-1.1,"S6":-0.4,"S7":-1.3,"H1":2,"H2":0.3,"H3":-0.1,"H4":-0.3,"H5":1.2,"H6":0.4},
{"g":"MRPL22","S1":0.4,"S2":-1,"S3":-0.1,"S4":-0.6,"S5":-1.5,"S6":-1,"S7":-1.1,"H1":1.4,"H2":-0.5,"H3":0.3,"H4":-0.9,"H5":0,"H6":2},
{"g":"RPL7","S1":0.4,"S2":-0.9,"S3":-0.1,"S4":-1,"S5":-1,"S6":-1.7,"S7":-1.7,"H1":0.7,"H2":-0.6,"H3":0,"H4":1.2,"H5":0.7,"H6":1.9},
{"g":"NHP2","S1":0.4,"S2":-1,"S3":0.1,"S4":-1,"S5":-0.9,"S6":-1.7,"S7":-1.6,"H1":2,"H2":-0.6,"H3":-0.4,"H4":-0.3,"H5":1.3,"H6":0.8},
{"g":"SF3B3","S1":-0.5,"S2":0.5,"S3":-1.8,"S4":-1.2,"S5":-0.5,"S6":-1.2,"S7":-1.2,"H1":-0.2,"H2":-0.5,"H3":1.1,"H4":0.2,"H5":1.9,"H6":0.3},
{"g":"WAPL","S1":-0.2,"S2":-0.4,"S3":-1.2,"S4":-1,"S5":-0.8,"S6":-1,"S7":-1.4,"H1":-0.1,"H2":-0.9,"H3":-0.2,"H4":0.9,"H5":0.6,"H6":1.9},
{"g":"PMPCB","S1":-1.6,"S2":-0.5,"S3":-1.1,"S4":0.1,"S5":-0.5,"S6":-1.6,"S7":-0.7,"H1":1,"H2":-0.2,"H3":-0.7,"H4":0.9,"H5":2,"H6":-0.2},
{"g":"HADHB","S1":-1,"S2":-1.1,"S3":-1.7,"S4":-0.2,"S5":0.3,"S6":-1.1,"S7":-0.5,"H1":-1.2,"H2":0.4,"H3":0.9,"H4":0,"H5":2,"H6":0.8},
{"g":"SNRPD3","S1":-0.5,"S2":-0.2,"S3":-0.4,"S4":-1.8,"S5":0.3,"S6":-1.9,"S7":-1.3,"H1":-0.2,"H2":0.5,"H3":0.9,"H4":0.3,"H5":2,"H6":0},
{"g":"DNAJC10","S1":-1.5,"S2":-0.7,"S3":-1.4,"S4":-1.1,"S5":0.4,"S6":-1.2,"S7":0,"H1":1.8,"H2":0.3,"H3":1.2,"H4":-0.5,"H5":1.3,"H6":-1.1},
{"g":"HTRA2","S1":-0.2,"S2":0.9,"S3":-1.4,"S4":0,"S5":-1.5,"S6":-0.4,"S7":-2,"H1":-0.1,"H2":1.3,"H3":0.7,"H4":0.6,"H5":1.3,"H6":-1.2},
{"g":"CANX","S1":-0.5,"S2":-0.2,"S3":-1.4,"S4":-1.2,"S5":0.2,"S6":-1,"S7":-1,"H1":-1.7,"H2":-0.3,"H3":0.6,"H4":0.6,"H5":1.5,"H6":1.6},
{"g":"ILK","S1":-1.7,"S2":0.3,"S3":-1.5,"S4":-1.5,"S5":0.6,"S6":-1,"S7":-1,"H1":0.1,"H2":0.2,"H3":1,"H4":0.5,"H5":1.7,"H6":-0.5},
{"g":"RFC2","S1":-1.1,"S2":-1.1,"S3":-1.2,"S4":-1.7,"S5":0.6,"S6":-1.3,"S7":-0.3,"H1":1.1,"H2":0,"H3":-0.4,"H4":0.9,"H5":0,"H6":1.8},
{"g":"HNRNPF","S1":-1.3,"S2":-1,"S3":-1.5,"S4":-0.6,"S5":-0.6,"S6":-0.6,"S7":-0.8,"H1":-0.6,"H2":0.7,"H3":0.9,"H4":1.5,"H5":1.9,"H6":-1.1},
{"g":"KIF2A","S1":-1.4,"S2":-0.6,"S3":-1.3,"S4":-1.4,"S5":0.5,"S6":-1.1,"S7":-0.1,"H1":-1.3,"H2":0.1,"H3":0.2,"H4":0.9,"H5":1,"H6":1.7},
{"g":"BCKDHA","S1":-1,"S2":-1.3,"S3":-1.3,"S4":-0.1,"S5":0,"S6":-0.7,"S7":-0.5,"H1":0.7,"H2":-0.8,"H3":2,"H4":-0.5,"H5":-0.7,"H6":1.5},
{"g":"RBBP4","S1":-0.7,"S2":-1.2,"S3":-1.6,"S4":-0.2,"S5":0.1,"S6":-1.4,"S7":-0.7,"H1":-0.4,"H2":-0.3,"H3":1.1,"H4":1.7,"H5":1.8,"H6":0},
{"g":"ACADM","S1":-1.6,"S2":0.9,"S3":-1.3,"S4":-1.3,"S5":-0.4,"S6":-0.5,"S7":-1.1,"H1":1.8,"H2":0.2,"H3":0.3,"H4":-0.3,"H5":-0.9,"H6":1.6},
{"g":"THOC3","S1":-1.6,"S2":-0.8,"S3":-0.6,"S4":-0.8,"S5":0.9,"S6":-1.3,"S7":-1,"H1":0.9,"H2":-1.1,"H3":0.5,"H4":1.1,"H5":1.8,"H6":-0.7},
{"g":"POR","S1":-1.6,"S2":-0.8,"S3":0.2,"S4":-1.9,"S5":-0.7,"S6":-0.6,"S7":-0.6,"H1":0.8,"H2":0.6,"H3":0.6,"H4":1.5,"H5":1.1,"H6":-0.8},
{"g":"ELAVL1","S1":-0.6,"S2":0,"S3":-1.9,"S4":-1.6,"S5":0.1,"S6":-1,"S7":-1.1,"H1":0.7,"H2":-0.2,"H3":1.6,"H4":1.4,"H5":0.1,"H6":0.2},
{"g":"HMGCL","S1":-1.1,"S2":-0.9,"S3":-0.4,"S4":-0.8,"S5":-0.3,"S6":-0.4,"S7":-1.4,"H1":1.2,"H2":1.1,"H3":0.5,"H4":0.6,"H5":1.6,"H6":-1.9},
{"g":"KDELR1","S1":-1.5,"S2":-0.9,"S3":-1.1,"S4":-0.7,"S5":-0.5,"S6":-1.2,"S7":0.1,"H1":-0.4,"H2":0.2,"H3":2,"H4":0.5,"H5":0.8,"H6":-0.6},
{"g":"HADHA","S1":-0.6,"S2":-0.2,"S3":-0.9,"S4":-0.7,"S5":-0.7,"S6":-1.7,"S7":-1,"H1":-0.7,"H2":0.6,"H3":2,"H4":1.4,"H5":1.1,"H6":-0.7},
{"g":"CORO1C","S1":-0.9,"S2":-0.3,"S3":-1.4,"S4":-1.1,"S5":-0.7,"S6":-1.3,"S7":0.1,"H1":-0.5,"H2":-0.6,"H3":1.1,"H4":1.1,"H5":2,"H6":-0.1},
{"g":"ACAT1","S1":-1.7,"S2":-0.5,"S3":-0.5,"S4":-1.6,"S5":0,"S6":-0.3,"S7":-0.7,"H1":-1.1,"H2":0,"H3":1,"H4":0.6,"H5":2,"H6":0.3},
{"g":"SND1","S1":-1.3,"S2":-1.2,"S3":-1.3,"S4":-1.4,"S5":1.2,"S6":-1.4,"S7":-1.3,"H1":0.6,"H2":-0.3,"H3":0.4,"H4":1.3,"H5":1.6,"H6":0.7},
{"g":"BUB3","S1":-1.6,"S2":-0.1,"S3":-1.8,"S4":0,"S5":-0.7,"S6":-1.6,"S7":-0.5,"H1":1.5,"H2":-0.2,"H3":1.1,"H4":-0.1,"H5":1.4,"H6":0},
{"g":"MRPS11","S1":-2,"S2":-1.2,"S3":0.2,"S4":-0.4,"S5":-0.6,"S6":-1,"S7":-1.3,"H1":2,"H2":-0.2,"H3":0.7,"H4":0.1,"H5":0.8,"H6":-0.1},
{"g":"AK3","S1":-0.5,"S2":-0.6,"S3":-0.6,"S4":-0.3,"S5":-1.4,"S6":-1,"S7":-0.7,"H1":2,"H2":0.4,"H3":-0.2,"H4":-0.1,"H5":0.4,"H6":-0.8},
{"g":"TMPO","S1":-1.7,"S2":-0.4,"S3":-1.8,"S4":-1.6,"S5":-0.3,"S6":-0.2,"S7":-1.2,"H1":1.2,"H2":0.3,"H3":0,"H4":0.8,"H5":1.2,"H6":1.2},
{"g":"CDK4","S1":-1.7,"S2":-1.3,"S3":-0.4,"S4":-1.2,"S5":0.2,"S6":-1,"S7":-1,"H1":-0.8,"H2":0,"H3":1,"H4":0.4,"H5":1.7,"H6":1.4},
{"g":"PRKAR1A","S1":-1.3,"S2":-0.7,"S3":-1,"S4":-0.5,"S5":-0.4,"S6":-1.1,"S7":-1.1,"H1":-1.2,"H2":0,"H3":1,"H4":0.8,"H5":1.9,"H6":0.1},
{"g":"MEN1","S1":-1.5,"S2":-0.6,"S3":-1.2,"S4":-0.7,"S5":-0.7,"S6":-0.8,"S7":0,"H1":1.4,"H2":0,"H3":0.8,"H4":1.2,"H5":1.7,"H6":-1.7},
{"g":"MCM3","S1":-1.9,"S2":-0.6,"S3":-1.4,"S4":-1.4,"S5":0,"S6":-1,"S7":-0.4,"H1":1.8,"H2":-0.4,"H3":1,"H4":1,"H5":0.5,"H6":0.1},
{"g":"PYCR2","S1":-1.8,"S2":-1,"S3":-1.2,"S4":-0.9,"S5":0.4,"S6":-0.5,"S7":-1,"H1":0.7,"H2":2,"H3":-0.1,"H4":1.1,"H5":-0.6,"H6":0.2},
{"g":"LBR","S1":-1,"S2":-0.8,"S3":-1.5,"S4":-0.4,"S5":-0.8,"S6":-1.1,"S7":-0.7,"H1":-1,"H2":0,"H3":0.5,"H4":1,"H5":1.5,"H6":1.9},
{"g":"RAB9A","S1":-0.1,"S2":-0.9,"S3":-1.4,"S4":-0.6,"S5":-0.9,"S6":-1.1,"S7":-0.2,"H1":-1.7,"H2":0,"H3":2,"H4":0.2,"H5":0.3,"H6":1.5},
{"g":"ATL3","S1":-0.4,"S2":0.2,"S3":-0.6,"S4":-0.9,"S5":-1.1,"S6":-0.6,"S7":-1.5,"H1":-1.7,"H2":-1,"H3":1.7,"H4":1.7,"H5":0.9,"H6":1},
{"g":"MCU","S1":-1.4,"S2":-0.2,"S3":-1.8,"S4":-1.2,"S5":-1.1,"S6":0,"S7":-1.2,"H1":1.8,"H2":-0.4,"H3":-0.2,"H4":0.3,"H5":1.6,"H6":0.4},
{"g":"CSTF1","S1":0.3,"S2":-1.5,"S3":-0.7,"S4":-1,"S5":-1.2,"S6":-0.9,"S7":-0.7,"H1":2,"H2":0.4,"H3":1.2,"H4":-0.8,"H5":1,"H6":-1.3},
{"g":"FDXR","S1":-0.1,"S2":-1.5,"S3":-1.3,"S4":-0.6,"S5":-1,"S6":-0.7,"S7":-0.2,"H1":2,"H2":-0.3,"H3":-0.6,"H4":0.3,"H5":0.4,"H6":0.2},
{"g":"CPT2","S1":-1.4,"S2":-0.9,"S3":-1.3,"S4":-0.4,"S5":-1.1,"S6":-1.2,"S7":-0.8,"H1":1.5,"H2":0,"H3":0.1,"H4":2,"H5":0.9,"H6":-0.4},
{"g":"YARS2","S1":-1.2,"S2":-1.3,"S3":-0.4,"S4":-0.2,"S5":-1.2,"S6":-0.9,"S7":-0.9,"H1":1,"H2":-0.5,"H3":-0.3,"H4":-0.4,"H5":1.9,"H6":0.9},
{"g":"NUP43","S1":-0.9,"S2":-0.9,"S3":-0.7,"S4":-0.6,"S5":-0.2,"S6":-0.7,"S7":-0.8,"H1":2,"H2":-0.5,"H3":-0.2,"H4":-0.4,"H5":1.7,"H6":-0.3},
{"g":"RACGAP1","S1":-0.5,"S2":-0.8,"S3":-0.8,"S4":-0.9,"S5":-0.9,"S6":-0.9,"S7":0.1,"H1":-1,"H2":0.2,"H3":-0.9,"H4":0.3,"H5":1.3,"H6":1.9}
]},"transform":[{"fold":["S1","S2","S3","S4","S5","S6","S7","H1","H2","H3","H4","H5","H6"],"as":["key","v"]}],
"mark":{"type":"rect"},"encoding":{"x":{"field":"key","type":"nominal","sort":null,"scale":{"paddingInner":0,"paddingOuter":0},"axis":{"orient":"top","title":null,"labelAngle":0,"ticks":false,"domain":false,"labelPadding":4,"labelFontSize":12,"labelColor":"#333","labelExpr":"substring(datum.label,1)"}},
"y":{"field":"g","type":"nominal","sort":null,"scale":{"paddingInner":0,"paddingOuter":0},"axis":{"orient":"right","title":null,"ticks":false,"domain":false,"labelPadding":8,"labelFontSize":7.6,"labelLimit":100,"labelFontWeight":{"condition":{"test":"indexof(['GSTZ1','HNRNPK','GLIPR2','LBR','KPNA2','RANBP2','NXF1','NUP43','KDM2A','RBBP4','SND1','TMPO','MEN1','GPX1','HADHB','BCKDHA','ACADM','POR','HMGCL','HADHA','ACAT1','PYCR2','CPT2'],datum.value)>=0","value":"bold"},"value":"normal"},"labelColor":{"condition":[{"test":"indexof(['GSTZ1','HNRNPK','GLIPR2','LBR'],datum.value)>=0","value":"#d6127f"},{"test":"indexof(['KPNA2','RANBP2','NXF1','NUP43'],datum.value)>=0","value":"#4a72c0"},{"test":"indexof(['KDM2A','RBBP4','SND1','TMPO','MEN1'],datum.value)>=0","value":"#f0941e"},{"test":"indexof(['GPX1','HADHB','BCKDHA','ACADM','POR','HMGCL','HADHA','ACAT1','PYCR2','CPT2'],datum.value)>=0","value":"#a3c52d"}],"value":"#222"}}},
"color":{"field":"v","type":"quantitative","scale":{"domain":[-2,-1.5,-1,-0.5,0,0.5,1,1.5,2],"range":["#1f1f5a","#2b3391","#3a66b0","#5798c6","#7fbcc6","#b5d8bd","#dbe9b6","#f3f3c0","#fffde4"],"interpolate":"rgb"},"legend":{"orient":"bottom","direction":"horizontal","title":null,"gradientLength":240,"gradientThickness":12,"offset":10,"values":[-2,0,2],"labelFontSize":11,"labelColor":"#333","labelOverlap":false,"labelExpr":"datum.value==0?'0':format(datum.value,'.1f')"}}}}
]}
]}
